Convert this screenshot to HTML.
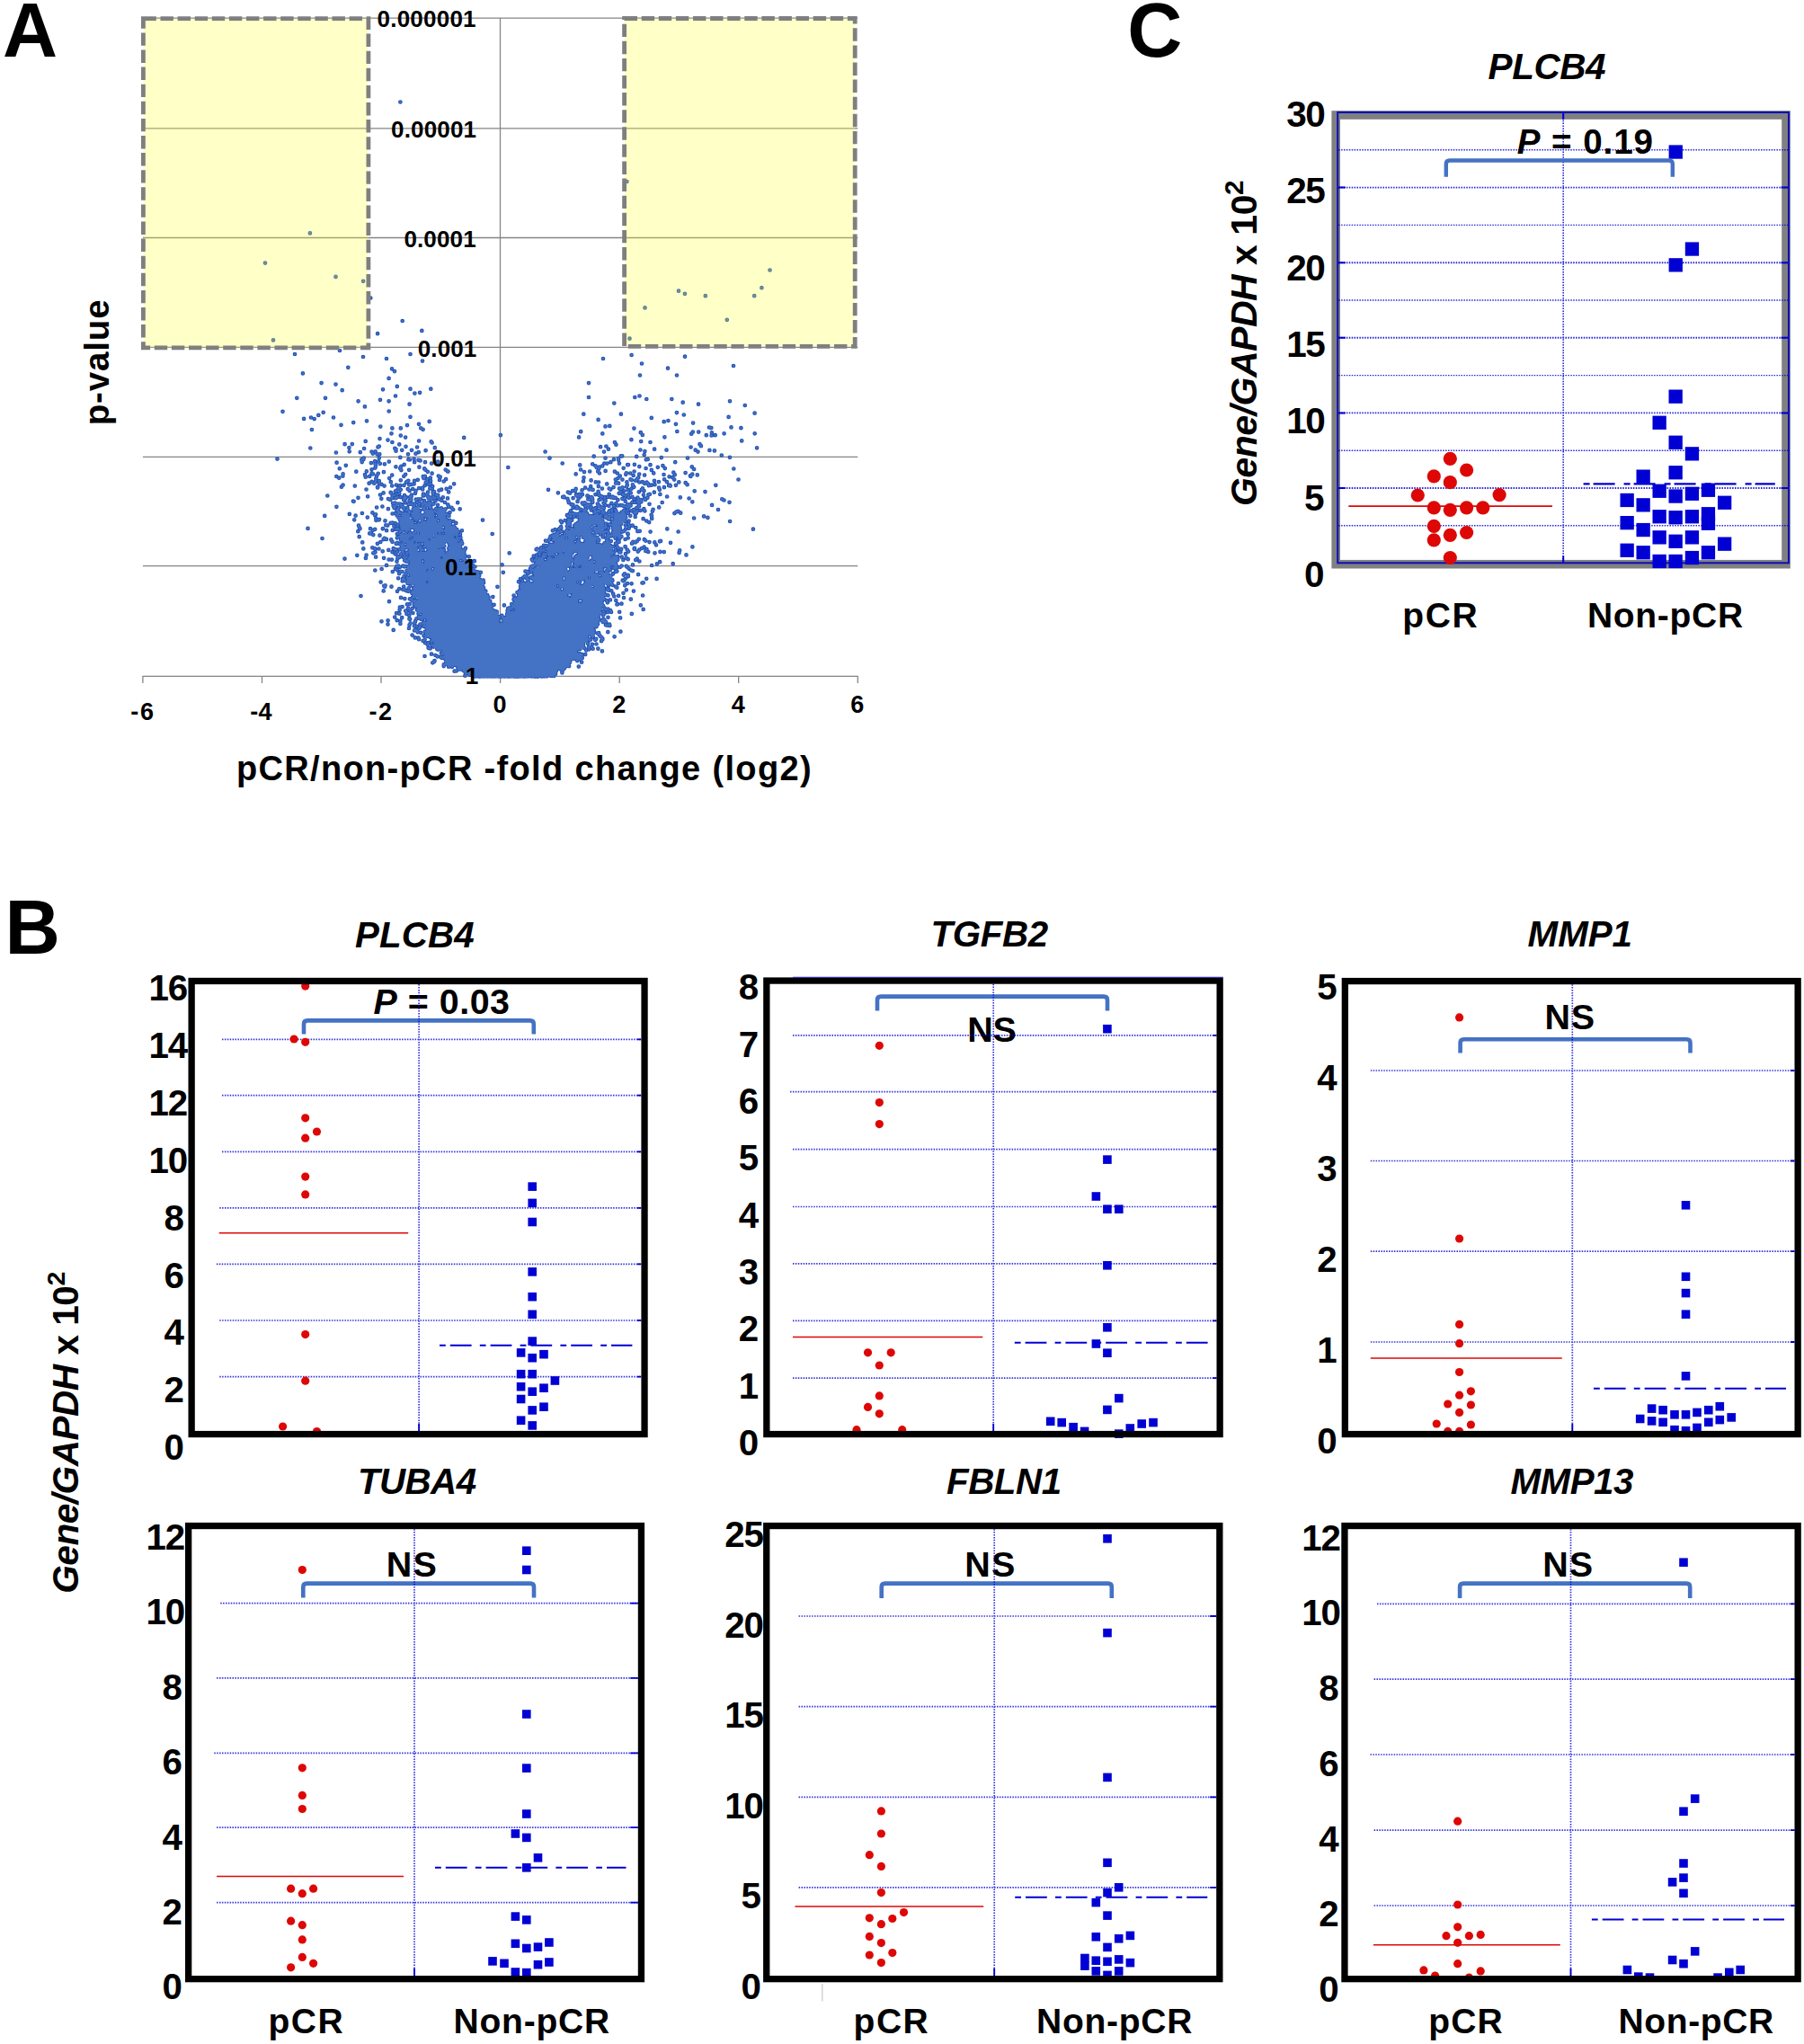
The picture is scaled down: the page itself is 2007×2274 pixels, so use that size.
<!DOCTYPE html>
<html><head><meta charset="utf-8"><title>Figure</title>
<style>html,body{margin:0;padding:0;background:#fff}svg{display:block}</style>
</head><body>
<svg width="2007" height="2274" viewBox="0 0 2007 2274" font-family="'Liberation Sans', Arial, sans-serif" font-weight="bold" fill="#000">
<rect width="2007" height="2274" fill="#fff"/>
<g id="panelA">
<path d="M158.9 20.1H954.3M158.9 142.8H954.3M158.9 264.5H954.3M158.9 386.4H954.3M158.9 508.3H954.3M158.9 629.6H954.3M158.3 752.4H954.9M556.5 20V752.4M158.9 752.4v7.5M291.5 752.4v7.5M424.0 752.4v7.5M556.6 752.4v7.5M689.2 752.4v7.5M821.7 752.4v7.5M954.3 752.4v7.5" stroke="#858585" stroke-width="1.3" fill="none"/>
<path d="M445.4 113.5h0m252 88.5h0m-352.5 57.4h0m-49.9 33.2h0m561.5 7.9h0m-483 7.4h0m30.6 4.9h0m443.3 7.4h0m-92.4 3.5h0m6.9 3.1h0m-349.6 4.7h0m372.5-2.3h0m54.4 0h0m-121.7 13.2h0m-269.8 14.6h0m361.1-1.2h0m-388.7 15.4h0m49.2-3.3h0m231.2 8.8h0m-396.5 1.7h0m74 11.6h0m-50 4h0m76 3h0m52.5-3h0m246.1 1h0m59.4 1.7h0m-332 2.3h0m40 2.6h0m201-2.6h0m43 5.5h0m102 2.5h0m-428.7 1.8h0m48.7 1.5h0m307-0.6h0m-406.1 5.7h0m102.1-2.3h0m-6.4 7.8h0m279.4-3.4h0m41 0h0m-395.4 8.6h0m297.4 0h0m-281.5 1.5h0m68.3 2.3h0m-61.1 4.3h0m45.3-0.9h0m30.5-0.6h0m10.6 4.1h0m12.2-4.1h0m-39.3 7.8h0m21.4-2.9h0m193.6 4.4h0m51.3 0h0m5.2-1.5h0m-381.2 2.3h0m31.7 0h0m36.6 3.5h0m24.4-1.5h0m9.6 1.5h0m286.7-2.3h0m28 0h0m64.7 2.3h0m-406.1 6.1h0m49.7-2.7h0m227.7-1.1h0m76.4-0.9h0m17.3 2h0m51.8 1.3h0m-396.1 6.5h0m-118.2 0.3h0m39.8 4.1h0m5.4-3.1h0m289.6 1.9h0m41.6 0h0m62-1.6h0m7.9 2.4h0m78.8-1.8h0m-501.5 6.2h0m7.9-1.4h0m3.7 1.6h0m21.3-1.6h0m85.5-0.7h0m209.1 3.1h0m59.2-2h0m85.8-1h0m-417.4 6.2h0m14.8-1.8h0m58 3.5h0m11.7-2.9h0m261 0.3h0m4.7-1.2h0m8.5 3.8h0m19.2-1.2h0m-391.6 2.2h0m43.8 1.8h0m13.1 1.8h0m9.4 0h0m7.2-3.3h0m15.2 3.2h0m205.3-1.9h0m4.8-0.5h0m27.1 2.7h0m83.6-1.1h0m2.3 0.6h0m22.2-0.7h0m10.9 0.8h0m-477.5 1.8h0m88.6 4.3h0m35.1-4.5h0m175.6 2.4h0m24.1 2.2h0m42.5-1.2h0m40.5-1.2h0m17.5 0.6h0m6.4 0h0m14.7 0.7h0m13.7 1h0m34.1 0h0m-393.9 2.3h0m5.3 2h0m65.1 0.3h0m40.7-2.8h0m87.2 2.3h0m70.7-2.5h0m24.6 2.4h0m29.8-3.6h0m16.6 1.5h0m5.8 0.3h0m4.1-0.3h0m-389 6.7h0m15.8-2.8h0m9 1.5h0m4.9 2.4h0m29.7-1.5h0m13.6 0.9h0m0.9 1.1h0m203.3-0.4h0m18.5-2.9h0m10.8 1.9h0m10.3 0.9h0m101.7-1.6h0m-441.6 3.8h0m8.2-0.1h0m28.7 3.3h0m1.3-0.8h0m22.5-2.2h0m7.2 2.4h0m216.6 0.4h0m6.3-0.7h0m11-1.8h0m83.2 2.8h0m9.9-3.3h0m1.4 2h0m-434.6 2.3h0m43.1-0.5h0m0.3 4.3h0m16.4-3.3h0m8.4 3.5h0m4.2-0.1h0m21.6-3.6h0m1.2 2.9h0m0-1.9h0m6.7 1h0m10.8 0h0m6.1-3.3h0m9.5 3.7h0m10.2-3h0m122.8 4.3h0m70.3-2.8h0m35.5 0.8h0m5 1.6h0m10.7-2.4h0m13.4 1h0m32.2 0h0m15.7 0.2h0m5.5 0.5h0m47.2-3.1h0m-468.2 5.2h0m26.9-0.3h0m14 1.4h0m4.8 0.8h0m2.7-0.1h0m31.7 0h0m8.5-0.6h0m3.3-1.6h0m20.6-0.3h0m185.6-0.2h0m18.8 4.8h0m1.4-0.1h0m24.5-1.3h0m59.8-3.4h0m26.3 3.9h0m-494.3 4.1h0m93.8 0.7h0m2.1-0.2h0m0.3-1.6h0m17.1 0.1h0m23.5-0.7h0m9.1 2.3h0m1.5 0.3h0m4.7-1h0m4.9 1.3h0m2.1 0.6h0m143.9-2.7h0m49.2-2h0m12.8 2h0m9.4 1.5h0m5-1.1h0m0.3 1.7h0m20-3.9h0m10.6 3.4h0m1.9-0.3h0m15.1-1.9h0m29.2 0.5h0m46.9-0.8h0m-437.3 5.9h0m28.1-0.6h0m10.2 1h0m4.2-2.1h0m0.4 3h0m3.5-2.4h0m1.8 2.2h0m5.1 0.5h0m4.9-2.7h0m16.9 3.2h0m11.4-2.6h0m11.9 0h0m7.1 1.4h0m7.2-1.9h0m138.4 1.8h0m19.5 1.9h0m14-1.1h0m13.1-0.8h0m3.1 0.1h0m4-1.4h0m9.6 1.4h0m9.2 1.6h0m0.8-0.1h0m6.9-0.3h0m17.6 0.4h0m27.7-3h0m-373.4 7.1h0m7-3.5h0m28.7 4.5h0m3.9-1.7h0m0.7-2.7h0m22.3 1.4h0m4.7 1.8h0m1.2-2.3h0m20.1 0.9h0m5.8 1.7h0m93.1-1.4h0m80.8 2.5h0m16.4-4.2h0m1.3 1.8h0m2.5 1.3h0m0.4-1.7h0m3.5-1.3h0m23.5 2.4h0m17.6-1.7h0m7.3 1.9h0m13.2-1.2h0m5.6-1.7h0m2.4 3h0m30-1.7h0m2.3 2.6h0m44.2-0.5h0m-434.7 5.8h0m14.7-2.6h0m11.5-0.3h0m5.8 2.1h0m1.3 0.8h0m5.8-0.5h0m6.2-1.6h0m19.5-2.1h0m8.7-0.3h0m18.1-0.2h0m2.6 2.2h0m4.8 1.9h0m15.1-4.1h0m2.3 1.8h0m0.5 0.2h0m142.2 2.8h0m9.3-2.3h0m6.2-0.6h0m9 0h0m1.7 2h0m6.7-2.6h0m10.3 0.8h0m2.9 1.8h0m10-0.2h0m4.4 0.2h0m4.4-2h0m5.6 3h0m13.6-4.6h0m2.4 3.5h0m22.1-0.7h0m13.3 0.4h0m-388.3 3.9h0m2.9 1.7h0m4.2-2.1h0m24.6-1.5h0m0.7 2.6h0m4.5-0.8h0m7.1 2.6h0m0.2-0.7h0m0.6-2.5h0m14.1 2.8h0m3-3.5h0m13.1 1.2h0m1.8-2h0m19.7 2.3h0m0.4 1.7h0m0.7 0.4h0m1-2.3h0m5.9 1.8h0m9-2.1h0m1.9 1.1h0m159.8 0.7h0m38 0.6h0m2.3-2.4h0m6.5-1.8h0m8.4 1.2h0m5.5 2.4h0m6.9-2.8h0m21.4-0.6h0m6.1 2.3h0m3.7 0.9h0m2.4-3h0m17.2 1.1h0m0.5 0.6h0m1.8-2.2h0m5.6 0.7h0m-362.2 7.5h0m4.1 0.5h0m0.5-1.4h0m3.6 0h0m0.1 2.3h0m12.9-1.1h0m11-1.9h0m6.1 2.3h0m1.2-0.7h0m1.2-1.1h0m6.8 0.1h0m3.7-1.1h0m8.9 3.1h0m1.5-1.1h0m0.2-2.8h0m3.7 2.1h0m9.9-1.1h0m4.7 1.5h0m2.4-2.3h0m152.9 2.1h0m8.6-0.9h0m5.2 2h0m3.2 0.1h0m18.8-2.9h0m1.4 3.3h0m6.2-3.3h0m5 2.8h0m4.1-3.1h0m1.3 0.8h0m4.4 0.6h0m1.6-1.6h0m2.5 3.4h0m3.5-0.3h0m4.7 0.5h0m8.5-1.8h0m4.9 1.2h0m6.2-2.8h0m2.8 2.8h0m8.3-2.5h0m5.1 2.8h0m7.4 0.8h0m58.8-3.7h0m-441.6 8.2h0m1.7-2.2h0m13.2 1.1h0m15.8-2.9h0m5.6 0h0m3.8 4.4h0m0.1 0.3h0m0.3-0.7h0m4-2.9h0m3.2 1.8h0m8.6-0.1h0m4.7-0.9h0m4.2 0.6h0m4.3-0.3h0m5.9-0.5h0m2.4-0.5h0m2.9-0.4h0m12 1.7h0m3.8-1.5h0m2.7-0.3h0m2.1 2.6h0m19.8 1.3h0m4.1-4h0m152.1 2.7h0m8.6 0.1h0m9.4-2.7h0m7.4 3.7h0m2.5-4.5h0m3.1 0.1h0m4.4 4.7h0m4.5-0.9h0m0.7-1.8h0m6.1-0.3h0m1.4 2.4h0m11.9-3.9h0m3.7 0.2h0m1 2.1h0m2.9-0.5h0m3.7-0.5h0m10.4 3h0m5.2-2h0m1-0.7h0m0.7 1.1h0m6.1-0.8h0m12.7-0.6h0m31.7 0.6h0m-388.8 4.7h0m32.3 2.2h0m1.5-1h0m2.1-2.1h0m0-0.7h0m2.4 1.9h0m7.9-0.7h0m1.9 1.8h0m3.6-1.9h0m3.4 1.9h0m3.5-2.8h0m3.9-0.2h0m0.2 1.5h0m8.1-0.9h0m0.2-1h0m2.3 1.6h0m2.2 2.9h0m5.4-1.4h0m2.7-0.9h0m5.6-0.9h0m2.5 3.6h0m110.8-2.6h0m27 1.3h0m2.9 0h0m0.8-2.2h0m6.8 1.5h0m3.6-2.7h0m4.3 1.8h0m2.1-0.3h0m2.1 0.7h0m6 1.9h0m4.3-3.2h0m7.8-0.1h0m1.6 1.1h0m9.8-1.2h0m1.4 3.8h0m0.5-2.9h0m3.4 2h0m4.4-1.1h0m3.7-1.5h0m8.3 3.6h0m3-2.4h0m1.1-1.5h0m1.6 2.7h0m16.6-3.4h0m0.7 2.1h0m38.9 1.5h0m11.8 0.8h0m-420.2 4.4h0m44.8 0.8h0m13.9-1.8h0m3.6-2.1h0m8-0.5h0m0.6 0.6h0m1.4 2.7h0m2.2-0.4h0m2.9-1.1h0m2.6-0.6h0m5.7 2h0m7.6 1.3h0m0.2-1.7h0m4.2-1.9h0m8.8 2.5h0m0.2-1.7h0m0.7 1.7h0m3-0.9h0m1.3-2.7h0m0.1 4.5h0m5.5-4.4h0m0.4 2h0m3.1 0.7h0m2.1 0.4h0m133.7-2.6h0m11-0.7h0m2.2 1.1h0m6.9 1.5h0m0.8 1.2h0m1.4 0.4h0m1.5-2h0m1.1 2.6h0m2.1-2.2h0m5.5 1.5h0m0.4-0.1h0m8.7-1.5h0m3.5-1.3h0m0.5 2.3h0m2.1 1.1h0m9.1-2.4h0m3.9 2.7h0m7.1-3.7h0m3.9 1.1h0m1.2 0.7h0m2.5 0.8h0m2.6-1.3h0m2.8-1.8h0m14.2 2.3h0m5.4-0.2h0m1.5-0.5h0m5-2.2h0m6.6 2.2h0m-335.9 3.9h0m25.8 1h0m7.6 0.2h0m2.3 0.9h0m2.2-2h0m3.2 0.2h0m1.1-0.1h0m1.4-0.9h0m3.6 0h0m3.4 0.6h0m0 2.4h0m1.4-2.3h0m0.2 1.7h0m1.2-2.3h0m3.6 4h0m0.6-4.1h0m1.1 2.4h0m0.2 0.4h0m5.4-0.2h0m2.6-0.4h0m2.8 0h0m3.8 1.9h0m4.7-2.7h0m0.6-1.5h0m0.5 1h0m1.6-0.2h0m0.6 1.8h0m1.9-3h0m0.7 1.9h0m0.8-0.6h0m1 3.4h0m0.1-3.6h0m2.8-0.5h0m1.3 2.2h0m0.5 0h0m2.2 1.4h0m1.5-3.5h0m5.2 1.1h0m128.2-1.5h0m1.2-0.2h0m0.3 0.6h0m3.7 1.5h0m6.2-0.6h0m6 0.6h0m10.7 0.7h0m1.9 0.2h0m0.7-2.6h0m1.4 0.2h0m0.6 1.1h0m0.1 2.3h0m0.2-1.3h0m7.3 0.8h0m2.2-1h0m1.2-2.5h0m2.9 1.2h0m0-0.7h0m0.1 4.3h0m0.6 0h0m0.1-0.7h0m2.4-4h0m3.1 0.4h0m2.4 0.4h0m0.7 0.4h0m2.5-0.2h0m2.7 2.4h0m5-1.4h0m2.6-0.4h0m4.3-1.3h0m0.5 0.7h0m3.7-0.9h0m1.9 2.1h0m4-1.4h0m0.9 2.2h0m2.4 0.3h0m4.2-1.5h0m1.1 1.3h0m2.4-2.1h0m21.7-1.3h0m14.7 0.9h0m9.8 1.1h0m36.7 0.8h0m2.2 1.2h0m-412.6 1.1h0m0.7 0.2h0m43.5 2h0m2.1-0.2h0m1.4 2.1h0m1.2-1.1h0m2.7-0.1h0m2.3 0.7h0m4.1-1.7h0m3.7 1.1h0m0.1 0.3h0m0.8 0.1h0m2.3-1.2h0m0.6 1.3h0m3-0.5h0m2.6-1.9h0m2.1 2.9h0m0.2-1.4h0m0.7-0.3h0m3.2 0.7h0m1 0.4h0m1.3-1.4h0m1.8 0.3h0m1.3 2.4h0m1.3-3.3h0m1.4 3.4h0m0.5-2.3h0m2.6 0.6h0m0.9-0.1h0m4.7 1.2h0m8-2.8h0m3.4 2.7h0m10.8-2.5h0m123.2-1.5h0m0.4 1.5h0m2.8 2h0m1.9 0.3h0m5-3.6h0m5.2 1.6h0m0.7 1.1h0m2-1.2h0m1 0.6h0m2.1 1.9h0m1.2-0.2h0m1.7-0.4h0m2.7-2.2h0m0.2-0.3h0m5.6 1.8h0m1.3 1.5h0m5.3-2.4h0m2.1 2.3h0m6.8-2.1h0m5 0.2h0m1.7 2.3h0m3.3-0.2h0m2.1 0.1h0m3.2-4.6h0m2.5 3.7h0m2.2 0h0m3-2.5h0m3 0h0m3-1.2h0m1.1 2.8h0m0.5-1.9h0m2.4-0.3h0m9.1 2.5h0m14.2-1.8h0m33.6-0.7h0m21.8 3.6h0m19.4-3.1h0m-437.1 5h0m44.7 0.7h0m6.3-1h0m6.5 2.7h0m5.7-3.4h0m1 2.3h0m0.9-0.9h0m1.9 3.3h0m1.8-0.7h0m0.2-1.5h0m3-2.6h0m1.1 1.1h0m0.8 0.2h0m1.2 2.5h0m0.1-1.2h0m3.7-0.4h0m0.2 1.6h0m6.3-0.2h0m0.8-3.5h0m0.5 2.8h0m2.3 1.7h0m1.3-2.8h0m0 2.6h0m0.7-2.4h0m0-0.8h0m4.3-0.9h0m1.4 3.6h0m1.1 0.5h0m0.3-2.7h0m5.7 0.3h0m0.9-0.8h0m0.1 0.7h0m1.1 2.7h0m4.5-0.5h0m0.5-0.9h0m2.7 0.2h0m2.9-0.8h0m3.3 1.5h0m0.5 0.5h0m0.9-1h0m3.7-2.3h0m3.2 0.9h0m1.7 2.1h0m7.5-0.7h0m125.8-1.4h0m3.9 0.6h0m0.4-1.8h0m1.7 1.5h0m2.8 1.7h0m4.8-3.8h0m0.4 4h0m0.4-0.5h0m2.1-2.1h0m2.9 0h0m0.7-0.4h0m2.5 1.9h0m2.6-0.8h0m2.9-2.1h0m1.5 0.3h0m2.6 1h0m2.1 0.9h0m5.6-2.5h0m3.6 3.7h0m1.8-3.6h0m0.6 0.5h0m1.2 3.8h0m9.7-4.1h0m2.5 0.6h0m1.8 0.8h0m0.8-0.1h0m0.2-0.8h0m2-1.1h0m3.4 4.5h0m0.7 0.2h0m2.6-2.1h0m0.4 0.2h0m1.6-2h0m0.8-0.2h0m5.3 3.1h0m10.2 0.6h0m6.6-2.4h0m65.8 2.6h0m-410.2 4.9h0m14.1-0.9h0m11.5-0.6h0m3.6 1.9h0m18.6-0.8h0m3.2-0.3h0m3 0.4h0m0-2.5h0m0.7 0.3h0m1.6 0.8h0m0.1 0.6h0m2.5 0.2h0m2.6-0.2h0m1.5 1.1h0m0.4-4.1h0m2.4 2.8h0m0.3-1.8h0m1.4 0.8h0m1.9 1.7h0m2.3-2.1h0m1.9 0h0m0.1 1.7h0m1.8-1h0m0.1-0.3h0m0.1 0.8h0m2.4 1.5h0m0.1-3.7h0m6.2 3.5h0m1.7-4.1h0m0.4 0.8h0m1.5 3.4h0m1.5-3.7h0m1.5 1.2h0m3.8-0.7h0m1.8 1.2h0m1.3 1.3h0m0.7-2.8h0m2 3.7h0m1.5-3.2h0m1.1 3.1h0m0.5 0.4h0m0.2-2.7h0m3.3 2.5h0m0.8-0.6h0m3.7-1.4h0m133.2 1.3h0m1.3-3.1h0m2.3 2.8h0m0.4 0.5h0m2.7 0.2h0m0.8 0.3h0m2.5-0.2h0m1.6-1h0m1.5 1.4h0m2.2-1.7h0m0.3-2.8h0m1.9 0.7h0m1.7 2.5h0m4.9-3.4h0m3.4 2.1h0m0.6 0.6h0m0.2-2.6h0m0.2 1h0m0.4 3h0m2.2-2.2h0m0.2 3h0m0.3-4.5h0m1.8 0.6h0m2.9 1.1h0m0.5 0.8h0m1 0.8h0m0.1-1.9h0m2.9 2.7h0m2.6-2.1h0m1-1.7h0m2.8 0.4h0m0.7 2.6h0m3.5-0.8h0m0.3-1.9h0m1.9 3h0m4.2-1.7h0m0.6-0.1h0m1.8 0.4h0m0.2-2.1h0m0.7-0.5h0m3.3 0.1h0m0.6 3h0m3.8-2.4h0m3 2h0m2.1 0.8h0m0.5-0.9h0m0.7-1.7h0m3.8-0.6h0m4.8 0.6h0m8.5 0.2h0m24.5 2.4h0m1.9-1.5h0m2.2-0.8h0m2.7 1.9h0m-396 3.2h0m34.4-0.2h0m13.2 1.9h0m8.2-2.7h0m1.2 3.7h0m23.5-3.1h0m0.6-0.4h0m1.1 2.6h0m1.2 0.6h0m2.2 0.8h0m0.9-3.3h0m1.4 2.1h0m2.7-2.4h0m2.5 3.1h0m0.2-4h0m0 0.7h0m3.9 0.8h0m1.5 0.3h0m1.7 1.9h0m2.2-1.6h0m1.5 2.7h0m0.7-2.8h0m2.4-1.2h0m1.4 1.7h0m0.4 1.9h0m0.3 0h0m0.4-3.3h0m0.5-0.4h0m1-0.8h0m0.3 1.6h0m0.7 0.6h0m2.6-0.4h0m0.6-0.4h0m1.3 3.2h0m0.8-3.5h0m1.7 2.6h0m0.5-1.3h0m1.8-1.7h0m2.3 3.7h0m0.9-0.3h0m1.8-2.3h0m0.8-0.8h0m1.5 1.1h0m0.4 0.6h0m1.5-1.3h0m2.5 1.6h0m4-2.1h0m1.1 0.5h0m131.4-0.7h0m1.1 1.6h0m3.1 0.1h0m3.6 0h0m4 0.1h0m2.1-0.7h0m0.4 1.8h0m2.4-0.1h0m3.9-3.5h0m0.5 3.7h0m1.9-3.1h0m0.8 1.3h0m0.4 0.3h0m1.7-0.6h0m2.2 1.9h0m0.6-2.1h0m0.3 1.3h0m1.4 2h0m1.4-2.2h0m2.2 2.3h0m0.2-1.8h0m1.2 1.7h0m2.4-4h0m0.5 3.5h0m0.1 0.7h0m3.7-3.2h0m0.3 1.3h0m1.6-0.3h0m0.4 1h0m0.2-1.7h0m1.4 2.9h0m1.6-2.8h0m2.5-1.5h0m0.3-0.4h0m0.1 1.6h0m2.3 3h0m1.8-3h0m0.4 1h0m3 1h0m0.9-2.4h0m2-1h0m0.3 4.4h0m0.2 0.1h0m1.6-2.8h0m1.5-1.8h0m0.3 1.3h0m0.5 1.6h0m5-1.9h0m5.5 1.1h0m8.9 2.3h0m9-4.4h0m0.4 1.3h0m0.2 2.8h0m46.9-0.4h0m11-2.1h0m4.3 1.5h0m-393.2 2.4h0m24.2 0.5h0m3-0.3h0m0.6-0.7h0m6.5 1.6h0m6.2 2.4h0m1.9-0.1h0m3.1 0.4h0m5.2-3.7h0m0.4 3.9h0m1.1-4.7h0m1.1 4.5h0m5-1.1h0m1.3-1.7h0m0.9 1.8h0m3.8-2.3h0m0.6 3.7h0m0.1-1.2h0m3.8-2.2h0m2.6 2.9h0m3.8-0.6h0m0.2-0.6h0m0.3-1.9h0m2.9 1.5h0m3.2-1.7h0m0.6 1.8h0m2.4-2.9h0m1.6 3.3h0m0.6-1.8h0m1.8 2.3h0m1.4-0.4h0m0.3-1.5h0m1.8 2.5h0m2.9-0.8h0m0.4-3h0m2.1 2.4h0m0.1-1.4h0m1.5 1.2h0m0.5 0.7h0m2.7-2.9h0m0.8 3.6h0m2.6-0.3h0m0.2-2.7h0m4.1 1.2h0m2.9 1.9h0m29.7-3.3h0m86.8 1h0m1.1 1.7h0m3.7-2.3h0m2.6 2.2h0m1.1-3h0m0.7 0.2h0m0.5 1.7h0m0.4 1.2h0m2.3-2.6h0m6.5 3.1h0m2-3.1h0m1.3-0.4h0m1.3 1.7h0m0.2-1.7h0m5.6 2.9h0m0.1 1.1h0m4.3-1.3h0m2.4-0.7h0m0.7 0h0m2.5 1.9h0m0.3-1h0m2.3-1.8h0m3.5-0.1h0m0.5 2.1h0m0.8-1.6h0m3.6 2.7h0m4.3-4.9h0m2.7 2.7h0m0.6-0.3h0m2.5 1.5h0m1.8-0.8h0m0.7-2.3h0m1.1 2.5h0m0.6-2.9h0m3.3 1.2h0m3.8 0.9h0m4.1-0.6h0m19.7 0h0m2.9 1.6h0m89.9-1.1h0m-413.1 4.6h0m0.7 2.2h0m29.6-2.5h0m2 0.3h0m7.1 0.7h0m4-1.5h0m3.5 1.2h0m0-2.1h0m3.5 0.4h0m0.4 3.8h0m0.8-1.6h0m4.6-1.2h0m0.3 3h0m0.7 0h0m0-4.3h0m1.2 0.9h0m0.9 2.3h0m1.4 0.7h0m3-3h0m1.2 3.5h0m0.6-1.3h0m2.9-0.7h0m0.7 0.1h0m0.4-0.3h0m4-0.3h0m2.2-2.1h0m9.8 1.8h0m0.4-0.1h0m2.2-0.6h0m0.1 2.6h0m0.4 0.4h0m2.4-0.7h0m1.5-2.3h0m2.8 0.1h0m1.5 1.4h0m0.4 2h0m3.4-0.9h0m1.4-3.5h0m2.6 3.1h0m1.1-0.5h0m1.6 1.7h0m117.8-1.1h0m0.2 1.1h0m6.5-1.9h0m1.3-1.6h0m1.5-0.1h0m0.3-0.5h0m0.1 1.1h0m5.2 0.2h0m1.4 2.9h0m0.2-4.4h0m2.8 2h0m1.7 1.3h0m0.9-3.1h0m0.3-0.1h0m6.7 3.7h0m1.2-3.3h0m2.2 1.8h0m2.2-2.6h0m2.4 4.2h0m1 0h0m3.1-3.1h0m0.8 3h0m0.7-0.8h0m1.2-2.5h0m1.4 3.3h0m0.1-3h0m1.4 1.4h0m2.2 2.1h0m0.5-3.1h0m0.2 1.4h0m0.6 0.8h0m3.6-3h0m2 0.6h0m1.4 0.3h0m0.7 2.4h0m4.1-0.9h0m0.2-2h0m1.5 0h0m1.7 2.7h0m0.2 1h0m1.5-4.8h0m4.6 1.8h0m3.3-1.8h0m1 2.2h0m3.4 0.1h0m0.1-0.4h0m3.6 2.4h0m-364.8 0.9h0m55.8 3.3h0m2.2-3.1h0m11.5 0.1h0m2.7 1.6h0m2.5-1h0m8.6-0.5h0m0.1-0.3h0m4.2 2.2h0m6.6-0.3h0m3.7-1h0m1.8-1h0m1.3 1.4h0m2.9-1.7h0m0.6 0h0m0.1 3.2h0m2-1.8h0m1.1-0.1h0m1.1-1.3h0m0.5 4.3h0m0.7-0.9h0m2.4-1.4h0m1.4 2.7h0m5.4-3.7h0m0.1-1h0m0.1 3.7h0m0-2h0m2.3-1.2h0m0.5 2.3h0m2.6 0.8h0m0.6-1.9h0m11.7 2h0m2.2-0.6h0m0.8 1.1h0m2.5-0.2h0m0.2-1.6h0m3.4 1.5h0m0.3-3.2h0m0.1 2h0m0.1 0.9h0m2.5-2.5h0m0.2 2.5h0m0.6 0h0m0-1.8h0m4.7 1.6h0m2.2-3.4h0m1.5 0.6h0m0.4 2.7h0m1.7 0.6h0m2.7-3h0m0.5 2.3h0m0.6-1.4h0m1.5-0.4h0m1.7 2.5h0m3.9-1.2h0m101 0h0m2.7-1.2h0m3.2 2.8h0m1-3h0m0.9-1h0m0.9 3.7h0m1.2-0.6h0m4.4 0.6h0m1.6-1.7h0m3.2 0.8h0m0.5-0.5h0m0.3-2.3h0m2.1 0.5h0m0.1 2.4h0m3.5-0.1h0m12.1-1.6h0m0.8 2h0m0.8 0.9h0m1.3-2h0m0.8-1.2h0m0.5 3.5h0m1.6-1.8h0m2.2-1.7h0m1.2 0h0m1.4-0.4h0m0.8 4.1h0m1.2-3.6h0m0.9 2.4h0m2.2-1.5h0m1.5 2.1h0m2.8 0.1h0m0.4-0.8h0m0.9 0.6h0m2.1-0.7h0m1.1-3.3h0m5 3.8h0m0.1-3.3h0m1.1-0.5h0m0.5 3.5h0m1.5-2.8h0m2.5 0.4h0m1.1 1.4h0m1.2-0.7h0m1.7 2.2h0m2.1-0.9h0m2-2.1h0m3.8-1h0m9.6 3.3h0m2.4-0.3h0m11.9 0.8h0m18.7-3.2h0m12.3 3.1h0m83.3-2.8h0m-438.2 8.5h0m11.5-3.8h0m1.9 0.2h0m2.2 1.5h0m7.2 0.6h0m19.3-1.7h0m2.1 3.4h0m0.7-4.9h0m2.1 3h0m2 1h0m1-1.5h0m0.8 1.9h0m1-3.2h0m0.3 1.2h0m2.8 2.1h0m0.6-3.6h0m1.1 3.1h0m0.4-1.1h0m1.2-0.9h0m1 0.8h0m0.5 0.2h0m0.1-1.9h0m0.8 0h0m1.8-0.7h0m1.4 2.2h0m2.5 1.8h0m1.9-3.3h0m0.6 2.5h0m3.5 1.1h0m4.2-0.7h0m0.9-1.3h0m1.2 0.8h0m1.1 0.3h0m0.4-3.5h0m2.4 0.6h0m2.9 3.6h0m0.5-1.7h0m3.8-1.4h0m1.1 2.7h0m0.5 0.5h0m0.5-0.4h0m0.7-0.9h0m2 0.6h0m1.7-3h0m1.7 1.1h0m2.5 2.2h0m0.5-1.1h0m0.1 1.6h0m1-4.2h0m1.9 4.2h0m0.6-3.2h0m2.7 0.6h0m1.4 2.1h0m0.2-3.8h0m0.1 4.6h0m3.4-2.8h0m35.7-0.7h0m64.9 2.6h0m2.4-0.9h0m2.2-0.8h0m1.5 2.4h0m0.6-3.4h0m0.4 1.1h0m0.4-2.2h0m0.6 0.9h0m0.1 2.8h0m4.2 0.4h0m0.3-0.7h0m1.4 0.9h0m1.3-1h0m0.2-2.3h0m1.6 2h0m2.3-0.3h0m0.5-2.6h0m0.2 3.6h0m0.1 0.8h0m2.3-3.6h0m3.5 1.5h0m0.8-0.5h0m0.5 0.3h0m0.7-1.8h0m2.4 1.8h0m1.3 0.8h0m1.4-3.1h0m1.9 2.1h0m3.4-1.2h0m0.4 2.3h0m1.3 1.1h0m3-2.3h0m2.8 1.9h0m0.6-1.2h0m1 2.1h0m2.4-4.8h0m5.3 1.7h0m0.1-1.2h0m2.7 4.2h0m0.5-2.7h0m4.7 1.5h0m0.3-1.3h0m1-1.6h0m1.4 2.8h0m1.7 0.2h0m1.1-1h0m0.2-0.9h0m0.3 0.4h0m1.4-1.3h0m0.2 0.8h0m3.3-1.4h0m0.6 3.4h0m0.9-0.4h0m0.2-3.1h0m1.2 3.5h0m0.1 1h0m1.6-0.4h0m6.8-3.3h0m0.5 0.6h0m-340.2 4.8h0m68.1 1.1h0m1.1-1.2h0m2.2 1h0m5.3 0.5h0m6.6-2h0m4.3 2.3h0m0.1-2.7h0m0.9 1.3h0m2.7 2.7h0m0.1-1.8h0m0.7 2h0m1.2-2.4h0m1.1 0.3h0m0.9-1.5h0m1.2 3.7h0m0.5-0.6h0m2.8-1h0m0.6 0.8h0m0.6 0h0m1.2-2h0m1.5-0.1h0m0.5-0.2h0m0.6 2.4h0m1-1h0m0.9 1.1h0m2.6 0.4h0m1.2-0.4h0m0.9 0.5h0m0.1-1.1h0m1.3-0.2h0m2.9 0.2h0m0.2-0.2h0m0.9-2.8h0m2.4 4.3h0m1.4-3.9h0m1.4 3.2h0m1-1h0m0.3-1.7h0m1.4-0.3h0m3 2.1h0m1.7-0.9h0m0.6-1.7h0m2.1 3.7h0m0.2-3.3h0m3.7 1.3h0m0.1-1.2h0m0.7 0.1h0m0.8-0.8h0m2.1 1.8h0m3.4-0.5h0m2.6-0.7h0m0.8 2.9h0m2.1-1.6h0m0.4 2.6h0m0.3-2.4h0m2.4-0.7h0m2.2-1.2h0m1 4h0m93.6-0.6h0m2.4 0.4h0m1.5-1.2h0m0.8-1.7h0m3.3 1.6h0m0.3-3.1h0m1.3 1.7h0m1.3 0.1h0m1.5 1.8h0m0.9 0.4h0m0.6-1h0m1.3-1.6h0m2.1 2.3h0m3.9-1h0m1 1.7h0m2.5-1.5h0m0.2 0.9h0m2.2-3.5h0m0.8 2.6h0m1.2-1.9h0m3.3 1.2h0m0.1-0.8h0m3.3 2.6h0m0.2 0.4h0m0.9-2.9h0m0.3-0.4h0m5-0.8h0m1.5 0.7h0m1.9 2.1h0m4.3-2.1h0m2.2 2.9h0m2.1-3.3h0m0.9 4.1h0m0.1-4.8h0m0.8 0.2h0m0.5 0.7h0m0.9-0.4h0m0.5 2.4h0m1.2 1.2h0m0.1-1h0m8.3-1.9h0m0.7 2.5h0m1.3 0.2h0m0.3-3.7h0m3 4.3h0m4.7-3.8h0m0.3 0.8h0m2.5 2.8h0m1.3-3.3h0m0.6-0.2h0m0.1 1h0m6.3 0.7h0m3.1-1.5h0m10 3.6h0m2.1-2.3h0m6 0.4h0m1.4 1.4h0m15.8 0.7h0m1-0.4h0m-331.8 1.5h0m16.7 1.4h0m3.4-1.8h0m13.2-0.2h0m4.3 2.1h0m1.2-1.1h0m2.6 1.4h0m1.8 0.6h0m2 0.3h0m0-1.5h0m2.7-1.9h0m2.4 3.5h0m0.8-2.1h0m1.3 0.3h0m0.8 2.9h0m1.8-0.4h0m0.9-1.6h0m0.3-0.2h0m1.2 1.7h0m2.7-2h0m1.6 1.9h0m0.6-0.6h0m1.3-0.9h0m5.1-0.3h0m1.6 0h0m1.4 1.9h0m0.7-2.6h0m0.2-1.6h0m0.8 2.7h0m3.9-0.9h0m1.4-0.6h0m3.1 3.1h0m2.3-0.9h0m1-3h0m0.4 0.5h0m1.7-0.4h0m2.4 0.2h0m1.8-0.2h0m4.5 0.2h0m0.8 2.5h0m0-0.7h0m1-1h0m1.8 1.6h0m3.1-2.2h0m1.9 2h0m0.5-1h0m1.3 1.5h0m2.2-1.8h0m0.3 0.6h0m2.2 0h0m90.8 2h0m2.4 0.3h0m4.4-1.4h0m0.5 0.8h0m3.2-0.8h0m1-0.5h0m1.7-2.4h0m0.8 2.3h0m0.9-2.1h0m5.7 0.2h0m0.7 0.9h0m7.9-0.7h0m0.7-0.8h0m0.6 2.3h0m0.1 0.7h0m1-2.3h0m1.5 1h0m3.6 0.5h0m0.3-0.3h0m1.8-2h0m0.8 1h0m0.1 1.6h0m3 0.1h0m3.3-2.3h0m0.9 0.3h0m0.4 0.5h0m0.7 1.1h0m6.6 0.5h0m0-0.7h0m4.5 1.2h0m1.7 0.4h0m2.1 0.2h0m3.1 0.2h0m0.9-0.2h0m0.6-2h0m2.1 2.2h0m0.5-0.4h0m0.1-2.6h0m2.3 1.8h0m0-1.9h0m0.8 3.7h0m0.9 0h0m5.8-2.6h0m0.2 0.6h0m0.9-0.6h0m2.5-1.6h0m14.4 1.7h0m1.4-1.9h0m2.4 0.7h0m15.7-0.4h0m5.8 0.3h0m1.7 2.9h0m16-2.5h0m-341.7 6.6h0m10-1.1h0m2.9 1h0m0.1 0.6h0m4.2-0.4h0m10.8 1.4h0m5.4-1.7h0m1.8 1.4h0m1.1-0.2h0m3.6-0.1h0m2.3-1.4h0m0.4 1.5h0m0-3.6h0m0.8 3.3h0m0.1-2.6h0m0.9 1.8h0m0.2 1.4h0m1.1-3.4h0m0.4 1.2h0m2.2-1.2h0m0.2 0.8h0m0.1-1h0m1.1 1.3h0m4.2-0.5h0m1.4 3.4h0m3.1-2.2h0m0.1 0.3h0m4.5-0.6h0m0.9-1.6h0m0.5 2.5h0m1.9 1.2h0m1.1-3.3h0m3.7 0.7h0m1 1h0m0.5-2.2h0m3.1 3.9h0m3.8-0.3h0m1.2-0.2h0m1.8-1.9h0m1.6 2.8h0m2.8-4.8h0m0.1 3.4h0m1.6 1.3h0m0.6-4.2h0m0.5 3.8h0m0.3-4.4h0m4.9 2.6h0m0.9-1h0m0.5 0.7h0m0.8-0.9h0m1.3 0.8h0m7-0.6h0m2.5 0.1h0m3 3h0m1.5 0.1h0m1.2-2.4h0m78.7 1.4h0m1.1-0.6h0m4.4-1.3h0m0.2 2.6h0m2.5-0.2h0m0 0.6h0m2.7-2.2h0m0.5 0.9h0m1.7-0.1h0m0.9-2.7h0m0.7 4.1h0m2.6-2.8h0m3-1.5h0m1.1 1h0m2.8 2.6h0m2.6-3.8h0m1.4 4.5h0m0.6-1.1h0m0.4-2.1h0m2.4 1.9h0m2.9-2.3h0m0.1 3.5h0m2.3 0.2h0m1.7-3h0m1.2-1.6h0m2.7 0.8h0m0.4 1.3h0m2.7-1.7h0m0 1.2h0m2.1 1.9h0m0.1-3.5h0m4.9-0.3h0m8.5 1.1h0m1.3-0.4h0m2.3 0.4h0m2.5-0.2h0m3.7 1.3h0m2.1 0h0m2.9-0.3h0m3.7 0.2h0m0.9 0.2h0m3.7-1.3h0m1.5-0.5h0m2.5 3.9h0m1.7-3.6h0m1.9 1.9h0m2.7 0.6h0m4.3-2.8h0m0.2 0.2h0m2 3.3h0m7.9-1.2h0m0.3 0.6h0m0.1-1.2h0m5.3 1.8h0m2.7-1.6h0m2.6-1.3h0m2.9 2.5h0m36.7 1.1h0m14.2-3.9h0m-355.1 6.9h0m2.2-1h0m8.2-1h0m10.9 0.9h0m3 2.1h0m2.2-2h0m4.4 2h0m2.2-2.6h0m0.6 2.2h0m3.5-1.4h0m0.2 1.3h0m0.3-0.4h0m2.5-2.4h0m0.9 3.7h0m1-1.3h0m3.7 0.8h0m2.5-1.6h0m2.1 1.2h0m0.7-1.1h0m0.6 1.3h0m0.7 0.4h0m0.7-3.8h0m2.5 4.1h0m0.9-1.7h0m3.1 0.4h0m0.6-1.5h0m1.2 1.1h0m1.3 2h0m1.5-2.2h0m0.7-1.8h0m6.6 1.8h0m4.1 2.2h0m1.6-1.4h0m0.7 1.2h0m0.7-0.8h0m3.5-0.6h0m2-1.6h0m0.5 0h0m0.3 3h0m8.3-1.9h0m2.9-1.8h0m1.1-0.3h0m0.8 3.6h0m2.6 0.7h0m0.2-3.9h0m0.4 2.7h0m50.2-0.6h0m32.9 0.1h0m1 1.9h0m1.1-3.4h0m3 2.1h0m2.3 0.3h0m2.4-1.6h0m1.1 0.9h0m1.4-1.7h0m2.9-1.3h0m0 4.3h0m1.1-1.7h0m2-1.7h0m1.5-0.3h0m0.3 0.4h0m3.5 0.3h0m0.9 2.9h0m0.7-1.3h0m3.5 0.4h0m1.3-1.5h0m3.1 0.9h0m0.8-2.1h0m0.7 3.8h0m0.2-3.6h0m1.6 2.2h0m0.3-2.2h0m0.8 1.2h0m0.4-1.5h0m3.1-0.2h0m3.1 1.6h0m7.7 1.3h0m3.2-0.2h0m0.2-1.7h0m1.8 2.8h0m3.9-0.7h0m13.5-0.5h0m0.7 1.6h0m1.7-2.9h0m2.1 2.1h0m0.6-0.3h0m0-3.3h0m1.5 0.3h0m0.8 3.6h0m2.1-2.1h0m5.3-0.3h0m1.6 0.1h0m5.6 1.9h0m3.1-2.6h0m10.7 0h0m8.5-0.7h0m2.9 1.1h0m7.3 1.3h0m6-1.4h0m4.3 0.2h0m16.8 0.8h0m7.9 2.5h0m-380 4.2h0m13.8-3.8h0m9.6 3.1h0m0.7-3.3h0m10.5 2.1h0m9 1.1h0m5.5 1.7h0m9.7-1h0m0.3-2.5h0m2.1 0.8h0m0.8-1.1h0m3.7 1.6h0m1.4 0.9h0m1.6-1.2h0m2.4 1.5h0m1.1-1.7h0m1.4-1.3h0m0.4-0.9h0m0.3 4.4h0m0.5-4h0m5.1 0.5h0m4.2 1.3h0m2.4-1.2h0m0.5 2.4h0m1.7-1.6h0m3.4 0.9h0m10.1-1.2h0m2 0.7h0m1.5-0.8h0m0 3h0m4.1-1.6h0m0.6 0.6h0m1.5-2.3h0m1.5-0.5h0m10.6 2.5h0m1.8-1.1h0m3-0.1h0m0.3-1.2h0m0.1 2.3h0m0.1-1.7h0m2.6 3.4h0m1.2-1.5h0m1.3-2h0m3.9 0.5h0m70 3.1h0m1.9-3.9h0m2.1 3.9h0m1.1-4.7h0m1.5 4.8h0m1.5-2h0m0.4 0.7h0m1.6 1h0m0.9-0.6h0m0.5-1.2h0m0.3 0.4h0m0.4-2.6h0m1.4 0.4h0m0.3 1.3h0m1.4-1.6h0m2.2 3.1h0m1.8-0.4h0m0.3-2.3h0m1.3 2.1h0m2.6 1.1h0m2 0.4h0m0.2-4h0m0.8 0.5h0m3.7-1.1h0m0.4 2.3h0m1.9-1.7h0m4.4 0.7h0m1.1 1.7h0m0.7-1.1h0m1.8 1.3h0m2 0.5h0m0-1.2h0m0.4-1.3h0m0.9 2.9h0m4.2-2.3h0m0.7 1.7h0m0.4-0.7h0m0.9-2.3h0m0.1 0.3h0m3.1 1.5h0m0.4-2h0m5.4-0.2h0m1.5 1.7h0m1.4 0.4h0m6-0.1h0m1.1 2h0m0.1-3h0m1.8 0.9h0m0.3 2.1h0m0.3-3h0m1.4 3.2h0m2.4-0.5h0m8.4-0.8h0m0.2-1.6h0m2.4 1.5h0m4-0.6h0m1.7-0.9h0m2.1 2.2h0m1.3-2.3h0m0.1 3.4h0m4.4-2.7h0m4.8 0.9h0m2.2 1.6h0m10-0.7h0m-272.8 1.1h0m5.6 2.1h0m8.6-1.2h0m1.6 0.9h0m0.7-0.8h0m1.5 1.3h0m2.6-1.5h0m1.1 1.7h0m0.4-1.8h0m8.5 0.9h0m0.2 1.2h0m1.2 0h0m0.3-2.1h0m1.7 4h0m3.1-3.1h0m1.8 0.5h0m0.7 0.7h0m0.1-2.6h0m0.7 2.7h0m4.5 1.4h0m2.2 0.1h0m2-1.7h0m2.5-0.4h0m2-0.8h0m2.4 1h0m0.3-1.2h0m0.8 0.3h0m3.1-0.3h0m10.3 2.1h0m0.3 1.1h0m1.4-4h0m1.7-0.3h0m0.8 2.5h0m0.2 1.6h0m2.6-1h0m0.3 1.3h0m3.2 0.1h0m0.1-3.7h0m0.9 1.8h0m1.4 2h0m1.7-3.2h0m2.9 0.6h0m0.2 2.2h0m3.7-2.8h0m64.9-0.4h0m2.5-0.4h0m3.4 1h0m0.6-0.1h0m2.8 0.2h0m2-0.8h0m0.2 1.3h0m0.2 1.6h0m0.8-1.6h0m2.7 1.6h0m0.1-1.8h0m1.5-0.1h0m0.9 1.1h0m0.6-2.4h0m2.2 0.8h0m3.5-1.3h0m3.6-0.3h0m7.8 3.6h0m1.9 0.7h0m0.6-1.7h0m1.1 0.4h0m1.3-2h0m0.9 3.3h0m2.9-3.4h0m0.3-0.4h0m1.2 1.5h0m3.3 1.9h0m0.4-2h0m0.5-0.4h0m1.8 0.5h0m2.1-0.1h0m1.7-0.2h0m4 1.5h0m0.2-2.7h0m2.4 3.6h0m0.3-2h0m3-1h0m0.7 2.7h0m0-2.6h0m4.7 2h0m0.8 0.5h0m2.8-1.4h0m5.6 2.1h0m3.5-0.7h0m2.2-0.5h0m1.8 1.5h0m1.4-4.8h0m1.9 2.6h0m3.1-1.6h0m6.9-0.5h0m13.8 0h0m4.2 1.5h0m19.5 2.8h0m3.2-2.1h0m14.6 2h0m-318.7 1.7h0m11.3 1.3h0m1.9-0.7h0m1.7 1.3h0m3.5-1.1h0m1.3 0.6h0m1.3-0.3h0m2.7 0.3h0m1.8-0.2h0m0.8-1.2h0m1.6-1.1h0m0.4 2.2h0m0.6-1.3h0m1.5 1.8h0m0-2.9h0m5.3 2.8h0m1.7-1.8h0m1.2-1h0m2.8 4h0m1.2-3h0m0.8 0.4h0m1.2 0.8h0m1.3 2.2h0m0.2-2.3h0m2.2 0.1h0m0.5 2.7h0m1.7-2.3h0m3.6 1.7h0m0.1-1h0m2-2.2h0m27.3 0h0m2.3-0.9h0m2.5 0.2h0m0.3 1.7h0m0.9 1.7h0m0.1-1.1h0m0.3-0.4h0m1.1-1.3h0m4 1.8h0m0.9-1.5h0m2.5 1.6h0m30.2-2.2h0m32.5 2.1h0m1.5 0.5h0m0.1-1.4h0m0.7 0.8h0m2.3-2.5h0m2.6 0.4h0m1.2 0.1h0m1.2 1.5h0m0.5-0.5h0m0.2 1.5h0m1-2.9h0m2.3 4.3h0m20.7-2.5h0m0.7-0.5h0m2 2.4h0m0.7-0.9h0m3.8-1h0m0.7-1.3h0m1.9 3.9h0m3.5-3.6h0m1.2 1.2h0m1.8 2h0m0.9-2h0m2.3-2.3h0m0.5 0.2h0m1.6 0.5h0m0.7-0.1h0m0.3-0.5h0m1.3 4.3h0m0.4-4.4h0m0.1 4.1h0m0.7-2.7h0m0 0.7h0m0 2.1h0m4.7-2.5h0m3.2 1.9h0m2.7-3.2h0m2.2 3.4h0m0.6-2.9h0m0.1 3.5h0m1.2-0.4h0m1.5 0.9h0m0.8-2.2h0m1.6 1.6h0m0.1-4h0m1.6 0.2h0m0.9-0.6h0m1.2 2.7h0m2.2 0.2h0m0.3-0.5h0m0.2-1.4h0m2.6 2.8h0m1.5-3.2h0m2.9 3.7h0m0.7-3.5h0m1.2 1.8h0m0.6-2.5h0m0.6 1.8h0m0.8 1.8h0m3.4-0.4h0m1.7-1.3h0m5.2 0.3h0m0.7 0.8h0m6.5-2.2h0m21.1 0.6h0m-307.8 5.5h0m7.3-1.5h0m12.2 3h0m3.1-3.2h0m2.2 1.5h0m3.5 1.6h0m2 0.1h0m5-1.5h0m1.4 0.3h0m1.1 0.8h0m1.2-2.3h0m1.6 2.6h0m2.1-1.6h0m8.9 1.8h0m2.7 0.4h0m0.4-2.8h0m0.6 1.4h0m4.2 0.8h0m0.8-1.1h0m1.5 1.5h0m2.9-0.8h0m0.6 0.1h0m0.6-0.2h0m0.1 1.6h0m0.2-0.7h0m1.8 0h0m2-3.4h0m30.2 1.1h0m0.5 1.1h0m0.5 0.7h0m2 0.8h0m2-3.6h0m0.6 2.4h0m0.2-0.4h0m2.5-0.8h0m1.4 1.6h0m1.3 0.3h0m0-0.6h0m3.1 0.9h0m3.2 0.4h0m25 0h0m24.7-1.1h0m2.5 0.1h0m3-3h0m0.4 3.7h0m1.6-2.7h0m1.9 0.9h0m0.4 2.4h0m1-1h0m1-3.6h0m2.1 1.5h0m2.5 0.4h0m0.9-0.5h0m25 1.1h0m2.6-0.9h0m1.6 3.1h0m2.8-1.1h0m1.4-0.8h0m0.1-1.3h0m1.2-1.1h0m1.3 1.8h0m1.4 0h0m2.1 1.4h0m1.1-0.1h0m0-1.3h0m2.6-1.8h0m1.1 1.4h0m0.5-1.6h0m0.9 2.8h0m5.2 0.3h0m3.2-1.8h0m2.1 3.2h0m1.4-0.4h0m1.2-2.8h0m0 0.8h0m0.5-1.5h0m2 0h0m1.1 0.1h0m3.3 2.7h0m0.9 0.4h0m1.6-3.3h0m0.4 3.7h0m3.7 0.3h0m0.5-1.9h0m0.5 0.5h0m0.3 1h0m1-3.4h0m0.4-0.9h0m1.2 0.2h0m0.3 1.6h0m0.7-0.5h0m5.8 2.3h0m0-3.5h0m1.6 3h0m13.1-3h0m2.8 2h0m1.6 0.5h0m-259.8 3.1h0m5.4 2.8h0m1.9-2.1h0m0.8-1.1h0m0.9 4.6h0m3.5-3.4h0m0.5 1.8h0m0.1-2.9h0m0.9 0.9h0m0.6 3.3h0m13.4-0.6h0m2.1-3.6h0m1 0.4h0m1.1 0.7h0m47.7 0.6h0m1.9 1h0m3.2-1.9h0m1 2.2h0m1.5-1.9h0m1.6 1.6h0m50.6 0.4h0m1.4-0.2h0m2.3-2.7h0m2.6 4.4h0m2.4-0.6h0m1.3-4.3h0m1.3 2.3h0m27.8-0.7h0m2-1.4h0m1.2 2.3h0m1.5-1.4h0m2.2-0.6h0m0.3 4.4h0m2.9-1.4h0m1.6-2.9h0m1 0.8h0m0.8-0.5h0m7.9 1.5h0m0.8 0.9h0m0.5 1.5h0m4.3-0.5h0m0.1-2.4h0m0.7-0.1h0m0.4-0.7h0m1.3 2.4h0m0.4 0.7h0m0.4-4h0m0.2 1.3h0m1.4 0.2h0m3 1.9h0m0.2-1.8h0m1.1 1.2h0m0.8-1.2h0m1 2.3h0m0.5-2.8h0m2.3 0.2h0m1.6-0.3h0m2.5-1.1h0m2.1 1.2h0m0.6 3.3h0m1.6-1.5h0m1.9 1.2h0m0.1-0.4h0m0.8-0.1h0m0-3.5h0m2.2 1.6h0m1.3 2.4h0m0.9-0.4h0m2.4-3.4h0m0.2 0.5h0m11.9 1h0m1.2-1.3h0m3.8 1.6h0m0 1.4h0m11.3-2.1h0m-267 4.1h0m4.6 3.2h0m0.2-2.6h0m1.8 0h0m0.7 2h0m2.6 0.9h0m0.3-3.1h0m3.9 1.9h0m0.1-0.2h0m1.6-1.7h0m0.1 2.6h0m1.4 0.6h0m10.5-1.2h0m1.8 1.6h0m1-2.9h0m1.9 0.6h0m0.1-2.5h0m0.9 2.6h0m0.2-0.4h0m1.1 1.9h0m1.1-3.7h0m0.5 3h0m1.4 0.7h0m47-3.5h0m0.1 2.1h0m0.1 0.6h0m0.6-0.4h0m3.4 2.1h0m0.4-3.7h0m1 2.7h0m0.8-1.5h0m0.7 1.6h0m2.7-1.1h0m39.3 1.7h0m2-3.2h0m1.9 2.3h0m1.3-3.8h0m3.4 0.7h0m0.6 0.1h0m1.1 3.9h0m0.2-2.4h0m4.9-0.8h0m1.4 0.6h0m2.9-1.4h0m1.4 3.7h0m0.5-4h0m23.7-0.3h0m1.8 3.7h0m0.7-1.7h0m0.2-1.9h0m0.9 3.8h0m1.1 0.6h0m3-0.6h0m0.1-3.3h0m0.1 2.3h0m8-2.2h0m0.3 2.7h0m0.4-2.9h0m1.1 3.5h0m1.8-1.5h0m0.1-0.4h0m0.9-1.6h0m0.7 0.9h0m2.8 0.2h0m1.9 0.3h0m3.6-1.1h0m0.2 3.6h0m0.2-2.5h0m0.6 1.4h0m0.1-0.3h0m3.1-0.9h0m2.9 2.6h0m1.4-1.3h0m0-2.6h0m0.9 1.5h0m0.1-1.1h0m0.3 2.5h0m0.5-3h0m1.4 3h0m2-3.7h0m1.1 3.5h0m1.2-1.9h0m0.3-1.2h0m3.2-0.4h0m3 4.5h0m3.4-1h0m2.6-0.8h0m0.9-0.2h0m0.2 0.9h0m11.3-0.3h0m1.2 0.8h0m1.8-2.7h0m23.5 0h0m11.4 0.1h0m-307 3.7h0m3.6 4.2h0m1.4-0.5h0m24.9-2.4h0m3.1 2.8h0m1.1-3.2h0m1.8-0.2h0m1.8-0.6h0m0.8 3h0m2.1-1.9h0m0 2.5h0m5.4-2.7h0m1 3.3h0m2.4-2.2h0m0.1 2.7h0m3.4-2.7h0m0.9-1.6h0m1.3 1.2h0m1.3 1.5h0m52.1-1.9h0m0-0.5h0m1.4 3.5h0m2.2-2.9h0m2.4-0.7h0m41.4 1.8h0m3.2-1.4h0m0.4 3.7h0m2.5-3.6h0m0.9 1.9h0m1-0.5h0m0.1-1.1h0m0.7-1.3h0m1.3 1.5h0m3.2-0.2h0m0.5 0.4h0m1.4 0.2h0m1.4-1.7h0m20.3 2.1h0m0.7-1.8h0m1.1 1.7h0m0.9-1.5h0m2-1h0m0.7 2h0m1.3 0.2h0m0.3-1.4h0m1.4 1.8h0m0.4 2.3h0m4.5-1.9h0m3.5-2.6h0m4.9 1.1h0m1.5 2.1h0m1.9-1h0m0.6 1.4h0m2.4 0.2h0m0 0.2h0m0.5-4.2h0m2.7 4.2h0m1.6-0.3h0m1.2-1.3h0m0.6-1.2h0m1.5 2.6h0m0.3-0.8h0m2.2 0.2h0m1.1-1.1h0m0.8 0.1h0m1-0.1h0m3.4 1.1h0m1.3 1.3h0m0.6-1.3h0m0.6 0.8h0m1.2-2.7h0m0.2 1.3h0m5.1-2.8h0m0.1 3.4h0m0.8-1h0m0.5-2.6h0m0.6 0.8h0m3.5 0h0m0.3 1.5h0m0.5 1.5h0m0.1-2.6h0m0.4 2.6h0m1.4-2.2h0m1.5 0.3h0m1.3 1.4h0m6.5-1.8h0m7.3 2.3h0m2.8-2.2h0m4.6 0.2h0m11.9-0.8h0m1.2-0.2h0m-289 9.1h0m1.5-4.7h0m7.3 0h0m8.7 2.3h0m4.1 0.8h0m0.9-3.1h0m0.6 3.1h0m2 1.3h0m2.8-2.8h0m0.6 3.1h0m5.1-3.4h0m1.2 2.4h0m1.6-0.5h0m0.2-0.1h0m2 0.5h0m71.2-1.2h0m0.9-2.2h0m0.6 1.2h0m15.4-1.3h0m24.7 4.3h0m0.9-4.2h0m3.5 3.2h0m10.2-3.1h0m21.5 4.3h0m1.9-2.5h0m1.5 0.1h0m0.6-2h0m1 4.5h0m0.8-1.9h0m0.7 1.9h0m2-4h0m0.2 4h0m5.2-1.7h0m0 1.2h0m0.2-3.6h0m0 3.6h0m0.4-1.5h0m0.3 0.4h0m1-2.6h0m2.8 4h0m4.7 0.2h0m2.8-1.4h0m2.6-2.8h0m1.4-0.6h0m0.6 0.9h0m2.6 2h0m3.6-1.1h0m2.5-1.1h0m0.2 4.2h0m2.5-4.5h0m1.6 3.2h0m1.6-0.7h0m1-0.3h0m1.2 1h0m2.3-3.4h0m4.5 2.4h0m3.2 1.6h0m0.2-2.7h0m3.4 1.1h0m1.7 0.3h0m0.1 1.2h0m3.2 0.6h0m4.5-4.8h0m1.5 1.2h0m10.5 2.6h0m-254.8 1.5h0m12.2 0h0m4.2 2.1h0m0-1.1h0m0.5-1.1h0m1 1.8h0m1.6-0.1h0m1.2 0.7h0m6 0.1h0m67.4-2.4h0m1 2.2h0m2.2 2.2h0m1-4.5h0m1.9 4.4h0m29.4 0.4h0m3.9-3.5h0m1.6 2.5h0m1.4-2.7h0m1.1-1.2h0m3.1 1.6h0m37-0.4h0m1.6 2.3h0m2.3 0.3h0m2.4-3.1h0m3 3.8h0m1.4-1.7h0m3.3-1h0m0.1-1.4h0m1.4 0.3h0m2.2 3.6h0m0.5-0.5h0m3.2-2.7h0m0.4 1.7h0m13.3-2.8h0m2.9 0.4h0m1 0.6h0m1.6-1.1h0m3.3 1h0m3.4 2.4h0m2.8 0h0m1.2-0.8h0m0.4 0.2h0m0.4 1.6h0m0.4-3.8h0m1.5 3.6h0m2.8 0.7h0m5.7-1.7h0m11.3-0.9h0m11.4-2.2h0m10.2 4.9h0m-313.6 0.5h0m44.5 1.9h0m4.3 1.2h0m5.6 0.2h0m2.2 1.1h0m0.8-2.4h0m1-1.8h0m1.5 1.5h0m3.5-1.4h0m1-0.2h0m0.6 3.4h0m0.9 0.7h0m0.4 0h0m70-4.4h0m2.6 4.4h0m1.1-3.1h0m2.1 0.5h0m4.7-0.5h0m23.2 2.8h0m0.8-1.1h0m0.2 1.2h0m0.3 0h0m0.5-1.3h0m0.3 0.9h0m2.8-2h0m0.2 0.5h0m0.1 1h0m0.3-2h0m2.3 2.3h0m1.2-2.1h0m46.4 2.8h0m1.6-2.9h0m0.5-1.4h0m2.1 3h0m0.4 0.4h0m0.7-1.6h0m3.4 1.3h0m0.7-1.8h0m1 2.6h0m1.4 0.2h0m2-3.6h0m2-0.8h0m0.2 2.9h0m1.8 0.5h0m0.1 0.3h0m3.5-2.8h0m0.6 4h0m0.5-0.4h0m1.8-0.7h0m1.5-2.9h0m13.8 1.2h0m0.7-1.8h0m0 4.3h0m2.4-4.4h0m1.5 3.5h0m1.4 0.4h0m6.4 0.8h0m4.4-3.9h0m4.8-0.7h0m5.9 2.2h0m7.8 1.7h0m-268.8 2.5h0m19.9 3.2h0m2.7-0.2h0m3-4.5h0m0.1 0.8h0m2 0.4h0m1.4-0.9h0m0.6 4.3h0m1.7-1.9h0m0.1 1.3h0m0.5-2.2h0m0.2-1.3h0m3.6 1.2h0m0.7 1.4h0m70 0.7h0m0.9-3.9h0m0.6 1.6h0m1.9 2.6h0m1.1-3.3h0m1.1 0.1h0m0.5 2.5h0m23.6 1h0m2.6-0.8h0m2.5-1.7h0m1.6 2.1h0m2-2h0m54.7-1.7h0m2 0.8h0m3.4 3.6h0m2.6-1.7h0m0.9-3.2h0m0.1 3.6h0m0.4-1.5h0m3.1 2.1h0m2-0.5h0m0.7-0.1h0m2.8 0.4h0m0.9-2.4h0m14.5 2.8h0m2.9-2.6h0m0.8 2.6h0m0.2-3.2h0m5.1-0.5h0m0.9 2.1h0m9.4-2.3h0m1.1 4.4h0m0.7-0.2h0m4.4-0.5h0m-246.6 3.9h0m2.7-0.5h0m6.5 1.8h0m4.6-0.1h0m2-4.2h0m1.1 2h0m0.4-1.5h0m2.1 0.3h0m0.9 1.8h0m0.8 0.6h0m2.6 0.9h0m1.9 0.5h0m71.9-1.7h0m1.9-2.7h0m2.7 1.3h0m2.6-1.3h0m11.3 0.6h0m4.3 3.5h0m2.1-0.5h0m2 0h0m2.1-2.3h0m1.6 1.9h0m1.4-1.1h0m0.4-1.4h0m65.5 2.1h0m2.9-0.1h0m0.3-2h0m3.4 0.2h0m4.2 1.1h0m14.1 2.5h0m1.8-2.7h0m1.8 0.2h0m0.7 0.2h0m1.4-1.1h0m0.3 0.4h0m1.4 2.3h0m40.2-3.3h0m-271.7 8.9h0m3.5-3.8h0m6.6 1.2h0m1.2 0.8h0m4.3 0h0m2.7 1.6h0m4.5-3.6h0m1.6 1.5h0m2.6 0.6h0m0.9-0.2h0m0.2-0.2h0m2.5 0.6h0m1.4 1.1h0m68.9-2.2h0m3.7 0h0m0.1-1.9h0m1.4 0.9h0m0.8-0.1h0m0 2.1h0m2.4 1.1h0m0.1-1.8h0m2.1 2.5h0m0.1-1.7h0m11.9-1.2h0m1.5 1.4h0m0.5-2.4h0m2.3 2.9h0m1.4 0.6h0m1.1-1.4h0m2.5-2.6h0m0.2 1.2h0m0.8 0.5h0m1 1.2h0m0.1 0.9h0m87-2.1h0m0.8-1.3h0m0.1 3.6h0m3.5-3.2h0m0.2 0.6h0m0.2-0.2h0m0.1 0.2h0m3.6 0.6h0m2.6-1.7h0m2.2 2.7h0m0.2-3.4h0m2.6 1.6h0m0.9 1.7h0m9.2-0.1h0m26.5-2.9h0m-276.5 8.7h0m5.2-3.9h0m2.8 4.5h0m5.2-4.3h0m2.9 1.9h0m10.2-2h0m0.4 3.3h0m0.5 0.1h0m1.1 0.6h0m1.5 0.5h0m0.3-1.4h0m1.2-2.6h0m1.6 2.6h0m0.4 1h0m1.4-4h0m0.6 1.2h0m3.7 2.7h0m71.5-2.5h0m2.9 2.8h0m2.2-0.1h0m0.6-0.4h0m0.1-0.6h0m2.9-1.1h0m3.8 1.9h0m1.9-3.8h0m0 2.5h0m0.3 1.8h0m2.5-3.1h0m1.5 0.7h0m1.8 0.3h0m1.2 0.5h0m1.7-0.5h0m1.5-2.5h0m86.6 4.2h0m1.7-3.9h0m0.9-0.1h0m2.1 3.6h0m0.7-3.6h0m4.4 1.6h0m0.3-1.4h0m1.2-0.5h0m4 4.2h0m13.6 0.6h0m12.7-4.5h0m-278.3 8.4h0m7.1-1h0m10.1-0.1h0m3.7 0.6h0m10-2.2h0m0.8 0.2h0m5.9 2.4h0m1.3-2.9h0m2.4-0.7h0m2.6 1.2h0m1.5 0.2h0m1.9 3.4h0m3-3.9h0m0.6-0.7h0m0.3 3.8h0m1.7 0h0m0.5-2.1h0m1.8 0.8h0m70.7-2.7h0m0.7 4h0m1.9-0.3h0m1.3-1.3h0m5.1-1.6h0m0.6-0.5h0m0.6 2.7h0m0.6 1.3h0m0.9-3h0m3.7-1h0m95 1.1h0m3.6 1.2h0m0.5 2.2h0m1.3-3.2h0m3.2 1.1h0m0-0.1h0m1.2 1.6h0m0.8-1.1h0m0.1-1.8h0m0.4 3.2h0m0.6-2.1h0m1.6 2.1h0m-242.6 2.5h0m13.9-0.7h0m10.1 1.5h0m1.1-2h0m4.4 3.1h0m0.3-3.3h0m2.3 3.6h0m3.4 0.6h0m0.5-2.8h0m3.2-1.3h0m0.7 3.7h0m0.2-1.9h0m2 1.4h0m0.2-3.3h0m0.7-0.3h0m0.9 4.2h0m0-0.4h0m0.8-0.9h0m2.6-3.1h0m71.6 0.7h0m3 1.3h0m0.5 1.3h0m1.1 0.7h0m0.1-2.8h0m1 1.6h0m2-1.8h0m0.8 1.1h0m2.2-0.4h0m95.9 2.1h0m3.7-1.5h0m0.9-1.7h0m1.2 1.4h0m0 2.3h0m0.7 0.2h0m1.5-2.7h0m9 0.8h0m2.1 0.4h0m1.9-1.1h0m0.4 1.5h0m-240.7 4.8h0m17.3-1.9h0m6.1 2.4h0m1.6-0.8h0m1.4 1.4h0m1.9-2.8h0m0.8-0.6h0m7.2-0.8h0m0.7 1.7h0m0.3 1.3h0m1.4-1.9h0m0.4 2.1h0m173.8 1.2h0m8.5-1.4h0m0.9-2.8h0m0.7 3.2h0m-202.1 5.4h0m6.1-3.3h0m3.4 0.5h0m3.4 3.5h0m1.2-4.4h0m2.1 1.9h0m2.9 1.8h0m1.5-0.7h0m0.7 0.5h0m0.4 0h0m2.8-0.8h0m0.6 0.3h0m165.4-0.2h0m2-1h0m1 1.7h0m0.3-2.6h0m3.2 2.2h0m1.2-1h0m0.3-2.4h0m0.7 2.9h0m0.6 1.8h0m1.3-2h0m1.6-1.8h0m3.3 1h0m0.7 0.3h0m0.8-0.8h0m0.4 1.7h0m9.8-2.5h0m14.1-0.5h0m-228.6 6.7h0m3.6 0.3h0m0.7 1.5h0m6.5 0.4h0m3-3.6h0m3.1 0.9h0m3.6-0.1h0m0.3 1.2h0m1.3-0.2h0m161.7 2.5h0m3.9-4.3h0m1.1 1h0m2.3 0.5h0m1.8 1.7h0m1.3 1.1h0m1.2-0.8h0m2.3-2.9h0m0.2-0.4h0m2.5 3.6h0m1-0.9h0m4.2-3.3h0m1.3 0.9h0m1.6 1.8h0m0 1.1h0m13.3-3.1h0m-213 4.7h0m2.4 2.2h0m2.7 1.9h0m1-1.9h0m3.2-1.8h0m0.7-0.6h0m2.7 1h0m0.5-0.9h0m2 4.1h0m0-3.2h0m1.4 2h0m1.1 1.6h0m157.7-1.4h0m1-0.8h0m0.1-0.7h0m1.9 2.7h0m0.2-3.6h0m1.3-0.3h0m2-0.4h0m1.6 3.2h0m4.8 0.7h0m4.6-0.3h0m5.5-3.3h0m-192.4 7.6h0m2 0.6h0m1.9-3.6h0m1.5 0.7h0m0.4 1.1h0m0.2-1.8h0m2 1.5h0m1.7 2.6h0m0.8-0.6h0m2.6 0.1h0m0.1-1.8h0m0.8-0.4h0m0.7 0.6h0m1.4 1.9h0m1.6-1.7h0m144.5 1.6h0m2.6-2.1h0m1.3 2.3h0m0.4 0h0m2-4h0m0.3 4.3h0m1.2-3.6h0m3.5 2.6h0m4.8-1h0m0.5 2.2h0m2.5-2.3h0m1.7 1.7h0m5.8 0h0m-178.1 1h0m3.6 3.7h0m1.8-2.5h0m1.9 3.4h0m1.4-1.2h0m1-0.6h0m1.3-0.4h0m141.4 0.6h0m0.2-0.1h0m1 1.7h0m0.8-4.6h0m1.4 4.1h0m1.4 0.2h0m7.7-3.6h0m17.7 1h0m-197.4 5.6h0m7.5-2.3h0m4.4 1.3h0m2.3 1.4h0m3.6 0.4h0m1.3 1.1h0m2.2-1.3h0m1.8-0.2h0m0.7-2.7h0m0.6 0.2h0m0.7 2h0m1.1 0.9h0m0.9-1.5h0m133.5 1h0m0.5 1.1h0m2.2-0.6h0m4.7-0.9h0m2.3-1.4h0m0.6 0.3h0m0.4 1.6h0m2.9-2.4h0m0.6 0.7h0m0.1-0.6h0m0.4 3.8h0m3.4-3.8h0m-169.9 9.2h0m1.7-1.1h0m0.5-1h0m11.6-2.2h0m1.1 3.3h0m2.6-3.2h0m1.1 3.6h0m0.6-0.3h0m0 0.7h0m4.6-0.1h0m1.2 0.2h0m0.8-0.4h0m3.6 0.7h0m118.4-2h0m0.9 0.5h0m1.1-1.7h0m2.1 0.3h0m0.7 2.5h0m1.2-3.2h0m3.9-1.1h0m1.1-0.2h0m2.2 2.5h0m2-1.8h0m2.8 3.4h0m-153.4 4.4h0m0.1-1.8h0m1.7-0.7h0m0.6-0.1h0m2.6 0h0m0.4 3.2h0m0-0.7h0m2.3-0.2h0m0.2-0.8h0m1.3 1.9h0m1.9-1.9h0m1.1-1.3h0m2.8 2.5h0m0.3-1.2h0m1 2.1h0m2 0h0m0.6-3.6h0m0.5 2.1h0m0.5 1.4h0m3.2 0.5h0m104.4-0.7h0m1.8-0.3h0m3-1.4h0m0.5-1h0m1.9-0.3h0m0.7 2.4h0m0.7 0.1h0m0.6-0.6h0m0.9-2.7h0m1.2 1.9h0m0.6 1.2h0m10.7 0.5h0m-138.2 5.1h0m2.2-0.4h0m1.8-3.3h0m0.9 1.6h0m2.8 0.1h0m0.1 0.1h0m2.8-2h0m0 3.6h0m0.4-1.2h0m1.8 1.6h0m0.2-3.8h0m2.4 2.7h0m3 0.5h0m91.1-1.3h0m0.4-2h0m2-0.2h0m1.2 3.8h0m0.4-0.8h0m1-1.4h0m0.9-1.5h0m1.4 0.6h0m0.5 0.1h0m0.8 0.1h0m0.9 1.8h0m0.8-2.5h0m0.9 2.4h0m1.6-1.8h0m-110.5 8.2h0m0.7-2.5h0m3.3-0.2h0m0.7-0.5h0m0.3 2.2h0m2.5-2.7h0m0 3h0m0.1-0.3h0m1-1.7h0m0.7 2h0m0.4-0.1h0m0.5 1.3h0m0-1.2h0m1.1 1.4h0m0.3-0.4h0m0.2-2.3h0m0.2 2.7h0m1.8-2.5h0m0.1-0.8h0m0.1 3.1h0m1-1.2h0m0.2 1.4h0m0-3h0m1.2 2.5h0m1.4 0.5h0m0.1-0.4h0m0.3-3.8h0m1.8 2.2h0m0.2 2.1h0m0-1.2h0m0.5 0h0m1.6-0.6h0m0.1 1.7h0m1.6-2.3h0m0.9 1.2h0m0.2 0.6h0m0.1 0.5h0m1.1-3.3h0m0.4 3.2h0m0.7-2.2h0m0.4-0.9h0m1.3 3.3h0m0.6-0.1h0m0.7-2.2h0m0.9 2.1h0m0.8 0h0m1.2-1.4h0m0.6 1.5h0m0.2-0.3h0m0.6-0.2h0m1.6-0.4h0m0.5 0.8h0m0.1-1h0m0.6-0.5h0m0.1 0.5h0m0.3 1.1h0m0.5-0.4h0m0.7-1.1h0m0.3-1.8h0m0.5 2.9h0m0.1 0.3h0m0.8-2.7h0m0.1 0.9h0m0.2 0.7h0m0.8 0.8h0m0.9 0.1h0m0-2.4h0m0.2 2.6h0m0.2-0.8h0m0.3 1h0m0.7-0.1h0m0-1.8h0m1 0.3h0m0.1 1h0m0.2-0.3h0m1.1 0.7h0m0.2-0.1h0m1.1-1.9h0m1.3 2.1h0m0.6 0.1h0m0.2-0.5h0m0.3 0.5h0m0.9-0.6h0m0.7 0.4h0m0.9-1h0m0.1-0.2h0m0.3-0.4h0m0.4 1.2h0m0.1 0.4h0m0.3 0.1h0m0.9-0.5h0m0.2 0.6h0m1.1-2.3h0m0.1 1.1h0m0.6 0.1h0m0-2.4h0m1.9 3.4h0m0.4 0h0m0.6-1.5h0m0.2-0.2h0m0.9-0.8h0m0.9 2.1h0m0.2-0.9h0m0.1 1.3h0m1.3-0.5h0m0.5-0.8h0m0.8 1.4h0m1.3-3.3h0m0.4 3.2h0m0.6-3.8h0m0.4 3.8h0m0.1-3h0m2.5 2.9h0m0.1-4.1h0m0.3 3.5h0m0.3 0.2h0m2.9 0.5h0m0.6-2.1h0m0.5 0.3h0m0.1 1.5h0m0.3-0.3h0m0.7-0.4h0m1.3-2h0m1.9 2.2h0m1.2-0.2h0m0.1-1.6h0m0.5 2.3h0m0.5-0.2h0m0.5-0.4h0m1 0.1h0m1.2-1.1h0m0.5-1.7h0m0.3 3.6h0m0.9 0h0m0.2-0.7h0m0.6-0.6h0m0.6 0.9h0m0.2-2.5h0m0.5-0.9h0m0.6 3.7h0m1.7-1.4h0m0.9 1.4h0m1.1-3.6h0m0.8-0.1h0m0.5 2.4h0m0.8-1h0m0.3 1.6h0m0.9-1.5h0m0.1-1.2h0m1.3 3h0m1-4.1h0m0.3 3.6h0m0.8 0.6h0m1.8-2.3h0m7.3-1.3h0m-92 4.2h0m24.8-0.1h0m6.9 0h0m9.3 0.1h0m2.6 0h0m10.2-0.1h0m6.7 0h0m1.6 0.1h0m2.2 0h0m0.8 0h0" stroke="#2252b6" stroke-width="4.7" stroke-linecap="round" fill="none"/>
<path d="M460 564h7v1h-7zM460 565h7v1h-7zM460 566h7v1h-7zM487 566h8v1h-8zM459 567h8v1h-8zM473 567h8v1h-8zM487 567h8v1h-8zM459 568h8v1h-8zM473 568h10v1h-10zM487 568h8v1h-8zM459 569h8v1h-8zM473 569h10v1h-10zM487 569h8v1h-8zM459 570h8v1h-8zM473 570h10v1h-10zM487 570h8v1h-8zM646 570h7v1h-7zM447 571h9v1h-9zM459 571h8v1h-8zM473 571h10v1h-10zM487 571h9v1h-9zM644 571h10v1h-10zM683 571h13v1h-13zM447 572h9v1h-9zM459 572h8v1h-8zM473 572h10v1h-10zM487 572h9v1h-9zM644 572h10v1h-10zM683 572h13v1h-13zM447 573h9v1h-9zM459 573h8v1h-8zM473 573h10v1h-10zM487 573h9v1h-9zM644 573h25v1h-25zM683 573h13v1h-13zM447 574h9v1h-9zM459 574h8v1h-8zM473 574h10v1h-10zM487 574h9v1h-9zM644 574h25v1h-25zM683 574h13v1h-13zM445 575h11v1h-11zM460 575h7v1h-7zM473 575h10v1h-10zM487 575h9v1h-9zM644 575h25v1h-25zM683 575h13v1h-13zM445 576h11v1h-11zM460 576h7v1h-7zM476 576h20v1h-20zM644 576h27v1h-27zM683 576h13v1h-13zM445 577h11v1h-11zM460 577h7v1h-7zM476 577h10v1h-10zM489 577h8v1h-8zM644 577h27v1h-27zM683 577h13v1h-13zM445 578h11v1h-11zM476 578h10v1h-10zM489 578h9v1h-9zM644 578h27v1h-27zM683 578h13v1h-13zM445 579h15v1h-15zM475 579h11v1h-11zM489 579h13v1h-13zM644 579h27v1h-27zM681 579h15v1h-15zM445 580h15v1h-15zM469 580h17v1h-17zM489 580h13v1h-13zM644 580h28v1h-28zM681 580h15v1h-15zM445 581h15v1h-15zM469 581h33v1h-33zM643 581h29v1h-29zM681 581h12v1h-12zM445 582h15v1h-15zM465 582h37v1h-37zM641 582h31v1h-31zM681 582h12v1h-12zM445 583h57v1h-57zM640 583h19v1h-19zM665 583h7v1h-7zM681 583h11v1h-11zM445 584h57v1h-57zM639 584h19v1h-19zM665 584h7v1h-7zM681 584h9v1h-9zM446 585h46v1h-46zM495 585h11v1h-11zM639 585h19v1h-19zM665 585h7v1h-7zM681 585h9v1h-9zM446 586h46v1h-46zM495 586h11v1h-11zM639 586h18v1h-18zM662 586h10v1h-10zM681 586h9v1h-9zM446 587h46v1h-46zM495 587h12v1h-12zM639 587h18v1h-18zM662 587h10v1h-10zM681 587h9v1h-9zM446 588h10v1h-10zM461 588h31v1h-31zM495 588h14v1h-14zM634 588h23v1h-23zM662 588h8v1h-8zM681 588h9v1h-9zM446 589h10v1h-10zM461 589h31v1h-31zM495 589h15v1h-15zM634 589h24v1h-24zM662 589h8v1h-8zM682 589h8v1h-8zM461 590h31v1h-31zM495 590h15v1h-15zM630 590h28v1h-28zM662 590h8v1h-8zM682 590h8v1h-8zM461 591h31v1h-31zM495 591h15v1h-15zM630 591h28v1h-28zM662 591h8v1h-8zM682 591h8v1h-8zM467 592h19v1h-19zM495 592h15v1h-15zM630 592h28v1h-28zM662 592h8v1h-8zM682 592h8v1h-8zM467 593h19v1h-19zM495 593h15v1h-15zM630 593h28v1h-28zM682 593h8v1h-8zM445 594h10v1h-10zM467 594h19v1h-19zM495 594h15v1h-15zM630 594h28v1h-28zM682 594h8v1h-8zM445 595h10v1h-10zM460 595h21v1h-21zM484 595h8v1h-8zM495 595h15v1h-15zM615 595h7v1h-7zM630 595h30v1h-30zM682 595h8v1h-8zM445 596h10v1h-10zM460 596h21v1h-21zM484 596h21v1h-21zM615 596h7v1h-7zM630 596h10v1h-10zM648 596h12v1h-12zM682 596h8v1h-8zM445 597h10v1h-10zM460 597h21v1h-21zM484 597h21v1h-21zM615 597h13v1h-13zM632 597h8v1h-8zM648 597h15v1h-15zM445 598h10v1h-10zM460 598h45v1h-45zM615 598h13v1h-13zM632 598h8v1h-8zM649 598h14v1h-14zM445 599h10v1h-10zM460 599h16v1h-16zM479 599h30v1h-30zM615 599h13v1h-13zM632 599h8v1h-8zM651 599h12v1h-12zM445 600h10v1h-10zM460 600h16v1h-16zM479 600h30v1h-30zM615 600h25v1h-25zM651 600h12v1h-12zM446 601h30v1h-30zM479 601h30v1h-30zM615 601h23v1h-23zM651 601h12v1h-12zM448 602h12v1h-12zM463 602h46v1h-46zM617 602h21v1h-21zM651 602h12v1h-12zM448 603h12v1h-12zM463 603h1v1h-1zM472 603h23v1h-23zM498 603h11v1h-11zM617 603h21v1h-21zM650 603h13v1h-13zM453 604h7v1h-7zM463 604h1v1h-1zM472 604h23v1h-23zM499 604h14v1h-14zM617 604h22v1h-22zM642 604h21v1h-21zM672 604h7v1h-7zM453 605h11v1h-11zM472 605h23v1h-23zM499 605h14v1h-14zM611 605h55v1h-55zM672 605h7v1h-7zM453 606h11v1h-11zM472 606h23v1h-23zM500 606h13v1h-13zM611 606h68v1h-68zM453 607h11v1h-11zM472 607h23v1h-23zM500 607h13v1h-13zM609 607h72v1h-72zM453 608h11v1h-11zM472 608h16v1h-16zM500 608h13v1h-13zM609 608h72v1h-72zM453 609h11v1h-11zM475 609h13v1h-13zM499 609h14v1h-14zM609 609h72v1h-72zM455 610h9v1h-9zM476 610h12v1h-12zM499 610h14v1h-14zM609 610h72v1h-72zM455 611h9v1h-9zM476 611h18v1h-18zM499 611h18v1h-18zM609 611h72v1h-72zM455 612h9v1h-9zM476 612h18v1h-18zM499 612h18v1h-18zM609 612h72v1h-72zM455 613h9v1h-9zM476 613h18v1h-18zM499 613h18v1h-18zM609 613h17v1h-17zM629 613h52v1h-52zM455 614h39v1h-39zM499 614h18v1h-18zM609 614h17v1h-17zM629 614h9v1h-9zM643 614h38v1h-38zM455 615h39v1h-39zM497 615h20v1h-20zM609 615h8v1h-8zM622 615h4v1h-4zM629 615h8v1h-8zM643 615h38v1h-38zM455 616h62v1h-62zM609 616h8v1h-8zM622 616h14v1h-14zM643 616h38v1h-38zM456 617h61v1h-61zM609 617h8v1h-8zM622 617h14v1h-14zM642 617h37v1h-37zM456 618h61v1h-61zM617 618h19v1h-19zM641 618h14v1h-14zM659 618h20v1h-20zM456 619h34v1h-34zM493 619h24v1h-24zM617 619h19v1h-19zM640 619h15v1h-15zM659 619h20v1h-20zM456 620h34v1h-34zM493 620h24v1h-24zM617 620h19v1h-19zM639 620h15v1h-15zM659 620h27v1h-27zM456 621h34v1h-34zM493 621h24v1h-24zM609 621h27v1h-27zM639 621h15v1h-15zM659 621h27v1h-27zM456 622h13v1h-13zM472 622h39v1h-39zM596 622h9v1h-9zM609 622h27v1h-27zM639 622h15v1h-15zM659 622h27v1h-27zM456 623h13v1h-13zM472 623h39v1h-39zM596 623h9v1h-9zM609 623h27v1h-27zM639 623h15v1h-15zM659 623h1v1h-1zM663 623h23v1h-23zM456 624h13v1h-13zM472 624h39v1h-39zM596 624h9v1h-9zM608 624h28v1h-28zM639 624h21v1h-21zM663 624h23v1h-23zM456 625h13v1h-13zM472 625h49v1h-49zM596 625h39v1h-39zM639 625h21v1h-21zM663 625h23v1h-23zM456 626h13v1h-13zM472 626h49v1h-49zM596 626h39v1h-39zM639 626h21v1h-21zM663 626h23v1h-23zM456 627h65v1h-65zM596 627h39v1h-39zM639 627h47v1h-47zM456 628h65v1h-65zM596 628h39v1h-39zM639 628h47v1h-47zM456 629h65v1h-65zM600 629h34v1h-34zM647 629h32v1h-32zM453 630h68v1h-68zM600 630h34v1h-34zM647 630h32v1h-32zM453 631h27v1h-27zM483 631h38v1h-38zM600 631h30v1h-30zM647 631h24v1h-24zM453 632h27v1h-27zM483 632h44v1h-44zM594 632h36v1h-36zM634 632h37v1h-37zM453 633h21v1h-21zM477 633h3v1h-3zM483 633h44v1h-44zM594 633h36v1h-36zM634 633h37v1h-37zM453 634h21v1h-21zM477 634h3v1h-3zM483 634h44v1h-44zM594 634h37v1h-37zM634 634h37v1h-37zM453 635h21v1h-21zM477 635h52v1h-52zM594 635h37v1h-37zM634 635h27v1h-27zM670 635h1v1h-1zM453 636h79v1h-79zM594 636h67v1h-67zM670 636h1v1h-1zM453 637h80v1h-80zM594 637h67v1h-67zM670 637h7v1h-7zM456 638h77v1h-77zM594 638h72v1h-72zM670 638h7v1h-7zM456 639h77v1h-77zM594 639h72v1h-72zM670 639h8v1h-8zM456 640h77v1h-77zM594 640h72v1h-72zM670 640h11v1h-11zM456 641h77v1h-77zM594 641h32v1h-32zM629 641h25v1h-25zM657 641h9v1h-9zM670 641h11v1h-11zM453 642h80v1h-80zM594 642h32v1h-32zM629 642h25v1h-25zM657 642h24v1h-24zM453 643h80v1h-80zM594 643h32v1h-32zM629 643h25v1h-25zM657 643h24v1h-24zM453 644h82v1h-82zM594 644h32v1h-32zM629 644h52v1h-52zM453 645h85v1h-85zM594 645h32v1h-32zM629 645h19v1h-19zM651 645h30v1h-30zM453 646h21v1h-21zM477 646h61v1h-61zM594 646h47v1h-47zM651 646h30v1h-30zM453 647h21v1h-21zM477 647h61v1h-61zM594 647h47v1h-47zM651 647h30v1h-30zM453 648h21v1h-21zM477 648h61v1h-61zM579 648h11v1h-11zM593 648h48v1h-48zM651 648h30v1h-30zM453 649h85v1h-85zM579 649h66v1h-66zM650 649h31v1h-31zM461 650h77v1h-77zM579 650h40v1h-40zM622 650h23v1h-23zM650 650h22v1h-22zM461 651h77v1h-77zM579 651h40v1h-40zM622 651h36v1h-36zM661 651h11v1h-11zM461 652h77v1h-77zM579 652h40v1h-40zM622 652h36v1h-36zM661 652h11v1h-11zM461 653h78v1h-78zM579 653h40v1h-40zM622 653h36v1h-36zM661 653h11v1h-11zM460 654h79v1h-79zM579 654h44v1h-44zM627 654h31v1h-31zM661 654h12v1h-12zM460 655h79v1h-79zM579 655h44v1h-44zM627 655h46v1h-46zM460 656h79v1h-79zM578 656h45v1h-45zM627 656h46v1h-46zM459 657h82v1h-82zM577 657h47v1h-47zM627 657h46v1h-46zM459 658h82v1h-82zM576 658h97v1h-97zM459 659h82v1h-82zM576 659h97v1h-97zM459 660h82v1h-82zM576 660h58v1h-58zM637 660h36v1h-36zM459 661h83v1h-83zM576 661h55v1h-55zM637 661h36v1h-36zM459 662h84v1h-84zM576 662h55v1h-55zM637 662h36v1h-36zM459 663h84v1h-84zM576 663h55v1h-55zM637 663h35v1h-35zM459 664h85v1h-85zM576 664h57v1h-57zM636 664h36v1h-36zM465 665h79v1h-79zM572 665h100v1h-100zM465 666h79v1h-79zM572 666h100v1h-100zM465 667h79v1h-79zM572 667h71v1h-71zM648 667h24v1h-24zM461 668h85v1h-85zM572 668h71v1h-71zM648 668h23v1h-23zM461 669h85v1h-85zM572 669h71v1h-71zM648 669h22v1h-22zM461 670h85v1h-85zM572 670h71v1h-71zM647 670h23v1h-23zM461 671h86v1h-86zM572 671h98v1h-98zM461 672h86v1h-86zM572 672h98v1h-98zM461 673h86v1h-86zM572 673h98v1h-98zM461 674h86v1h-86zM572 674h98v1h-98zM461 675h86v1h-86zM572 675h98v1h-98zM464 676h83v1h-83zM572 676h97v1h-97zM464 677h83v1h-83zM573 677h96v1h-96zM464 678h85v1h-85zM573 678h96v1h-96zM464 679h87v1h-87zM573 679h96v1h-96zM465 680h88v1h-88zM571 680h97v1h-97zM465 681h89v1h-89zM564 681h104v1h-104zM470 682h84v1h-84zM564 682h104v1h-104zM470 683h84v1h-84zM563 683h104v1h-104zM470 684h84v1h-84zM563 684h104v1h-104zM470 685h85v1h-85zM563 685h104v1h-104zM470 686h85v1h-85zM560 686h107v1h-107zM470 687h85v1h-85zM560 687h107v1h-107zM474 688h81v1h-81zM560 688h107v1h-107zM475 689h80v1h-80zM560 689h107v1h-107zM475 690h80v1h-80zM560 690h107v1h-107zM475 691h80v1h-80zM560 691h106v1h-106zM474 692h81v1h-81zM560 692h106v1h-106zM474 693h192v1h-192zM474 694h192v1h-192zM474 695h191v1h-191zM474 696h191v1h-191zM474 697h190v1h-190zM474 698h187v1h-187zM474 699h187v1h-187zM474 700h187v1h-187zM474 701h187v1h-187zM473 702h188v1h-188zM473 703h188v1h-188zM473 704h188v1h-188zM473 705h188v1h-188zM473 706h188v1h-188zM473 707h181v1h-181zM473 708h181v1h-181zM478 709h176v1h-176zM480 710h174v1h-174zM480 711h174v1h-174zM480 712h174v1h-174zM480 713h174v1h-174zM483 714h171v1h-171zM483 715h167v1h-167zM483 716h167v1h-167zM483 717h167v1h-167zM483 718h167v1h-167zM483 719h167v1h-167zM483 720h167v1h-167zM486 721h161v1h-161zM486 722h160v1h-160zM492 723h150v1h-150zM492 724h150v1h-150zM492 725h150v1h-150zM492 726h153v1h-153zM492 727h155v1h-155zM494 728h153v1h-153zM494 729h153v1h-153zM494 730h153v1h-153zM494 731h153v1h-153zM494 732h153v1h-153zM495 733h152v1h-152zM495 734h141v1h-141zM495 735h140v1h-140zM495 736h140v1h-140zM495 737h140v1h-140zM495 738h139v1h-139zM495 739h139v1h-139zM498 740h136v1h-136zM508 741h126v1h-126zM509 742h121v1h-121zM509 743h120v1h-120zM509 744h119v1h-119zM509 745h111v1h-111zM515 746h105v1h-105zM516 747h103v1h-103zM517 748h102v1h-102zM517 749h102v1h-102zM522 750h96v1h-96zM523 751h95v1h-95zM527 752h90v1h-90zM533 753h55v1h-55z" fill="#4472c4"/>
<path d="M445.4 113.5h0m252 88.5h0m-352.5 57.4h0m-49.9 33.2h0m561.5 7.9h0m-483 7.4h0m30.6 4.9h0m443.3 7.4h0m-92.4 3.5h0m6.9 3.1h0m-349.6 4.7h0m372.5-2.3h0m54.4 0h0m-121.7 13.2h0m-269.8 14.6h0m361.1-1.2h0m-388.7 15.4h0m49.2-3.3h0m231.2 8.8h0m-396.5 1.7h0m74 11.6h0m-50 4h0m76 3h0m52.5-3h0m246.1 1h0m59.4 1.7h0m-332 2.3h0m40 2.6h0m201-2.6h0m43 5.5h0m102 2.5h0m-428.7 1.8h0m48.7 1.5h0m307-0.6h0m-406.1 5.7h0m102.1-2.3h0m-6.4 7.8h0m279.4-3.4h0m41 0h0m-395.4 8.6h0m297.4 0h0m-281.5 1.5h0m68.3 2.3h0m-61.1 4.3h0m45.3-0.9h0m30.5-0.6h0m10.6 4.1h0m12.2-4.1h0m-39.3 7.8h0m21.4-2.9h0m193.6 4.4h0m51.3 0h0m5.2-1.5h0m-381.2 2.3h0m31.7 0h0m36.6 3.5h0m24.4-1.5h0m9.6 1.5h0m286.7-2.3h0m28 0h0m64.7 2.3h0m-406.1 6.1h0m49.7-2.7h0m227.7-1.1h0m76.4-0.9h0m17.3 2h0m51.8 1.3h0m-396.1 6.5h0m-118.2 0.3h0m39.8 4.1h0m5.4-3.1h0m289.6 1.9h0m41.6 0h0m62-1.6h0m7.9 2.4h0m78.8-1.8h0m-501.5 6.2h0m7.9-1.4h0m3.7 1.6h0m21.3-1.6h0m85.5-0.7h0m209.1 3.1h0m59.2-2h0m85.8-1h0m-417.4 6.2h0m14.8-1.8h0m58 3.5h0m11.7-2.9h0m261 0.3h0m4.7-1.2h0m8.5 3.8h0m19.2-1.2h0m-391.6 2.2h0m43.8 1.8h0m13.1 1.8h0m9.4 0h0m7.2-3.3h0m15.2 3.2h0m205.3-1.9h0m4.8-0.5h0m27.1 2.7h0m83.6-1.1h0m2.3 0.6h0m22.2-0.7h0m10.9 0.8h0m-477.5 1.8h0m88.6 4.3h0m35.1-4.5h0m175.6 2.4h0m24.1 2.2h0m42.5-1.2h0m40.5-1.2h0m17.5 0.6h0m6.4 0h0m14.7 0.7h0m13.7 1h0m34.1 0h0m-393.9 2.3h0m5.3 2h0m65.1 0.3h0m40.7-2.8h0m87.2 2.3h0m70.7-2.5h0m24.6 2.4h0m29.8-3.6h0m16.6 1.5h0m5.8 0.3h0m4.1-0.3h0m-389 6.7h0m15.8-2.8h0m9 1.5h0m4.9 2.4h0m29.7-1.5h0m13.6 0.9h0m0.9 1.1h0m203.3-0.4h0m18.5-2.9h0m10.8 1.9h0m10.3 0.9h0m101.7-1.6h0m-441.6 3.8h0m8.2-0.1h0m28.7 3.3h0m1.3-0.8h0m22.5-2.2h0m7.2 2.4h0m216.6 0.4h0m6.3-0.7h0m11-1.8h0m83.2 2.8h0m9.9-3.3h0m1.4 2h0m-434.6 2.3h0m43.1-0.5h0m0.3 4.3h0m16.4-3.3h0m8.4 3.5h0m4.2-0.1h0m21.6-3.6h0m1.2 2.9h0m0-1.9h0m6.7 1h0m10.8 0h0m6.1-3.3h0m9.5 3.7h0m10.2-3h0m122.8 4.3h0m70.3-2.8h0m35.5 0.8h0m5 1.6h0m10.7-2.4h0m13.4 1h0m32.2 0h0m15.7 0.2h0m5.5 0.5h0m47.2-3.1h0m-468.2 5.2h0m26.9-0.3h0m14 1.4h0m4.8 0.8h0m2.7-0.1h0m31.7 0h0m8.5-0.6h0m3.3-1.6h0m20.6-0.3h0m185.6-0.2h0m18.8 4.8h0m1.4-0.1h0m24.5-1.3h0m59.8-3.4h0m26.3 3.9h0m-494.3 4.1h0m93.8 0.7h0m2.1-0.2h0m0.3-1.6h0m17.1 0.1h0m23.5-0.7h0m9.1 2.3h0m1.5 0.3h0m4.7-1h0m4.9 1.3h0m2.1 0.6h0m143.9-2.7h0m49.2-2h0m12.8 2h0m9.4 1.5h0m5-1.1h0m0.3 1.7h0m20-3.9h0m10.6 3.4h0m1.9-0.3h0m15.1-1.9h0m29.2 0.5h0m46.9-0.8h0m-437.3 5.9h0m28.1-0.6h0m10.2 1h0m4.2-2.1h0m0.4 3h0m3.5-2.4h0m1.8 2.2h0m5.1 0.5h0m4.9-2.7h0m16.9 3.2h0m11.4-2.6h0m11.9 0h0m7.1 1.4h0m7.2-1.9h0m138.4 1.8h0m19.5 1.9h0m14-1.1h0m13.1-0.8h0m3.1 0.1h0m4-1.4h0m9.6 1.4h0m9.2 1.6h0m0.8-0.1h0m6.9-0.3h0m17.6 0.4h0m27.7-3h0m-373.4 7.1h0m7-3.5h0m28.7 4.5h0m3.9-1.7h0m0.7-2.7h0m22.3 1.4h0m4.7 1.8h0m1.2-2.3h0m20.1 0.9h0m5.8 1.7h0m93.1-1.4h0m80.8 2.5h0m16.4-4.2h0m1.3 1.8h0m2.5 1.3h0m0.4-1.7h0m3.5-1.3h0m23.5 2.4h0m17.6-1.7h0m7.3 1.9h0m13.2-1.2h0m5.6-1.7h0m2.4 3h0m30-1.7h0m2.3 2.6h0m44.2-0.5h0m-434.7 5.8h0m14.7-2.6h0m11.5-0.3h0m5.8 2.1h0m1.3 0.8h0m5.8-0.5h0m6.2-1.6h0m19.5-2.1h0m8.7-0.3h0m18.1-0.2h0m2.6 2.2h0m4.8 1.9h0m15.1-4.1h0m2.3 1.8h0m0.5 0.2h0m142.2 2.8h0m9.3-2.3h0m6.2-0.6h0m9 0h0m1.7 2h0m6.7-2.6h0m10.3 0.8h0m2.9 1.8h0m10-0.2h0m4.4 0.2h0m4.4-2h0m5.6 3h0m13.6-4.6h0m2.4 3.5h0m22.1-0.7h0m13.3 0.4h0m-388.3 3.9h0m2.9 1.7h0m4.2-2.1h0m24.6-1.5h0m0.7 2.6h0m4.5-0.8h0m7.1 2.6h0m0.2-0.7h0m0.6-2.5h0m14.1 2.8h0m3-3.5h0m13.1 1.2h0m1.8-2h0m19.7 2.3h0m0.4 1.7h0m0.7 0.4h0m1-2.3h0m5.9 1.8h0m9-2.1h0m1.9 1.1h0m159.8 0.7h0m38 0.6h0m2.3-2.4h0m6.5-1.8h0m8.4 1.2h0m5.5 2.4h0m6.9-2.8h0m21.4-0.6h0m6.1 2.3h0m3.7 0.9h0m2.4-3h0m17.2 1.1h0m0.5 0.6h0m1.8-2.2h0m5.6 0.7h0m-362.2 7.5h0m4.1 0.5h0m0.5-1.4h0m3.6 0h0m0.1 2.3h0m12.9-1.1h0m11-1.9h0m6.1 2.3h0m1.2-0.7h0m1.2-1.1h0m6.8 0.1h0m3.7-1.1h0m8.9 3.1h0m1.5-1.1h0m0.2-2.8h0m3.7 2.1h0m9.9-1.1h0m4.7 1.5h0m2.4-2.3h0m152.9 2.1h0m8.6-0.9h0m5.2 2h0m3.2 0.1h0m18.8-2.9h0m1.4 3.3h0m6.2-3.3h0m5 2.8h0m4.1-3.1h0m1.3 0.8h0m4.4 0.6h0m1.6-1.6h0m2.5 3.4h0m3.5-0.3h0m4.7 0.5h0m8.5-1.8h0m4.9 1.2h0m6.2-2.8h0m2.8 2.8h0m8.3-2.5h0m5.1 2.8h0m7.4 0.8h0m58.8-3.7h0m-441.6 8.2h0m1.7-2.2h0m13.2 1.1h0m15.8-2.9h0m5.6 0h0m3.8 4.4h0m0.1 0.3h0m0.3-0.7h0m4-2.9h0m3.2 1.8h0m8.6-0.1h0m4.7-0.9h0m4.2 0.6h0m4.3-0.3h0m5.9-0.5h0m2.4-0.5h0m2.9-0.4h0m12 1.7h0m3.8-1.5h0m2.7-0.3h0m2.1 2.6h0m19.8 1.3h0m4.1-4h0m152.1 2.7h0m8.6 0.1h0m9.4-2.7h0m7.4 3.7h0m2.5-4.5h0m3.1 0.1h0m4.4 4.7h0m4.5-0.9h0m0.7-1.8h0m6.1-0.3h0m1.4 2.4h0m11.9-3.9h0m3.7 0.2h0m1 2.1h0m2.9-0.5h0m3.7-0.5h0m10.4 3h0m5.2-2h0m1-0.7h0m0.7 1.1h0m6.1-0.8h0m12.7-0.6h0m31.7 0.6h0m-388.8 4.7h0m32.3 2.2h0m1.5-1h0m2.1-2.1h0m0-0.7h0m2.4 1.9h0m7.9-0.7h0m1.9 1.8h0m3.6-1.9h0m3.4 1.9h0m3.5-2.8h0m3.9-0.2h0m0.2 1.5h0m8.1-0.9h0m0.2-1h0m2.3 1.6h0m2.2 2.9h0m5.4-1.4h0m2.7-0.9h0m5.6-0.9h0m2.5 3.6h0m110.8-2.6h0m27 1.3h0m2.9 0h0m0.8-2.2h0m6.8 1.5h0m3.6-2.7h0m4.3 1.8h0m2.1-0.3h0m2.1 0.7h0m6 1.9h0m4.3-3.2h0m7.8-0.1h0m1.6 1.1h0m9.8-1.2h0m1.4 3.8h0m0.5-2.9h0m0.4-0.9h0m3 2.9h0m4.4-1.1h0m3.7-1.5h0m8.3 3.6h0m3-2.4h0m1.1-1.5h0m1.6 2.7h0m16.6-3.4h0m0.7 2.1h0m38.9 1.5h0m11.8 0.8h0m-420.2 4.4h0m44.8 0.8h0m13.9-1.8h0m3.6-2.1h0m8-0.5h0m0.6 0.6h0m1.4 2.7h0m2.2-0.4h0m2.9-1.1h0m2.6-0.6h0m5.7 2h0m7.6 1.3h0m0.2-1.7h0m4.2-1.9h0m8.8 2.5h0m0.2-1.7h0m0.7 1.7h0m3-0.9h0m1.3-2.7h0m0.1 4.5h0m5.5-4.4h0m0.4 2h0m3.1 0.7h0m2.1 0.8h0m0-0.4h0m133.7-2.6h0m11-0.7h0m2.2 1.1h0m6.9 1.5h0m0.8 1.2h0m1.4 0.4h0m1.5-2h0m1.1 2.6h0m2.1-2.2h0m5.5 1.5h0m0.4-0.1h0m8.7-1.5h0m3.5-1.3h0m0.5 2.3h0m2.1 1.1h0m9.1-2.4h0m3.9 2.7h0m7.1-3.7h0m3.9 1.1h0m1.2 0.7h0m2.5 0.8h0m2.6-1.3h0m2.8-1.8h0m14.2 2.3h0m5.4-0.2h0m1.5-0.5h0m5-2.2h0m6.6 2.2h0m-335.9 3.9h0m25.8 1h0m7.6 0.2h0m2.3 0.9h0m2.2-2h0m3.2 0.2h0m1.1-0.1h0m1.4-0.9h0m3.6 0h0m3.4 0.6h0m0 2.4h0m1.4-2.3h0m0.2 1.7h0m1.2-2.3h0m3.6 4h0m0.6-4.1h0m1.1 2.4h0m0.2 0.4h0m5.4-0.2h0m2.6-0.4h0m2.8 0h0m3.8 1.9h0m4.7-2.7h0m0.6-1.5h0m0.5 1h0m1.6-0.2h0m0.6 1.8h0m1.9-3h0m0.7 1.9h0m0.8-0.6h0m1 3.4h0m0.1-3.6h0m2.8-0.5h0m1.3 2.2h0m0.5 0h0m2.2 1.4h0m1.5-3.5h0m5.2 1.1h0m128.2-1.5h0m1.2-0.2h0m0.3 0.6h0m3.7 1.5h0m6.2-0.6h0m6 0.6h0m10.7 0.7h0m1.9 0.2h0m0.7-2.6h0m1.4 0.2h0m0.6 1.1h0m0.1 2.3h0m0.2-1.3h0m7.3 0.8h0m2.2-1h0m1.2-2.5h0m2.9 1.2h0m0-0.7h0m0.1 4.3h0m0.6 0h0m0.1-0.7h0m2.4-4h0m3.1 0.4h0m2.4 0.4h0m0.7 0.4h0m2.5-0.2h0m2.7 2.4h0m5-1.4h0m2.6-0.4h0m4.3-1.3h0m0.5 0.7h0m3.7-0.9h0m1.9 2.1h0m4-1.4h0m0.9 2.2h0m2.4 0.3h0m4.2-1.5h0m1.1 1.3h0m2.4-2.1h0m21.7-1.3h0m14.7 0.9h0m9.8 1.1h0m36.7 0.8h0m2.2 1.2h0m-412.6 1.1h0m0.7 0.2h0m43.5 2h0m2.1-0.2h0m1.4 2.1h0m1.2-1.1h0m2.7-0.1h0m2.3 0.7h0m4.1-1.7h0m3.7 1.1h0m0.1 0.3h0m0.8 0.1h0m2.3-1.2h0m0.6 1.3h0m3-0.5h0m2.6-1.9h0m2.1 2.9h0m0.2-1.4h0m0.7-0.3h0m3.2 0.7h0m0 0.4h0m1 0h0m1.3-1.4h0m1.8 0.3h0m1.3 2.4h0m0.6 0.1h0m0.7-3.4h0m0.3 1.1h0m1.1 2.3h0m0.5-2.3h0m2.6 0.6h0m0.9-0.1h0m4.7 1.2h0m8-2.8h0m3.4 2.7h0m10.8-2.5h0m123.2-1.5h0m0.4 1.5h0m2.8 2h0m1.9 0.3h0m5-3.6h0m5.2 1.6h0m0.7 1.1h0m2-1.2h0m1 0.6h0m2.1 1.9h0m1.2-0.2h0m1.7-0.4h0m2.7-2.2h0m0.2-0.3h0m5.6 1.8h0m1.3 1.5h0m5.3-2.4h0m2.1 2.3h0m6.8-2.1h0m5 0.2h0m1.7 2.3h0m3.3-0.2h0m2.1 0.1h0m3.2-4.6h0m2.5 3.7h0m2.2 0h0m3-2.5h0m3 0h0m3-1.2h0m1.1 2.8h0m0.5-1.9h0m2.4-0.3h0m9.1 2.5h0m14.2-1.8h0m33.6-0.7h0m21.8 3.6h0m19.4-3.1h0m-437.1 5h0m44.7 0.7h0m6.3-1h0m6.5 2.7h0m5.7-3.4h0m1 2.3h0m0.9-0.9h0m1.9 3.3h0m1.8-0.7h0m0.2-1.5h0m3-2.6h0m1.1 1.1h0m0.8 0.2h0m1.2 2.5h0m0.1-1.2h0m3.7-0.4h0m0.2 1.6h0m6.3-0.2h0m0.8-3.5h0m4.1 1.7h0m0.7-0.6h0m4.3-0.9h0m1.1 2.3h0m0.3 1.3h0m1.1 0.5h0m0.3-2.7h0m1.1-1.8h0m4.6 2.1h0m0.9-0.8h0m0.1 0.7h0m1.1 2.7h0m4.5-0.5h0m0.5-0.9h0m2.7 0.2h0m2.9-0.8h0m3.3 1.5h0m0.5 0.5h0m0.9-1h0m3.7-2.3h0m3.2 0.9h0m1.7 2.1h0m7.5-0.7h0m125.8-1.4h0m3.9 0.6h0m0.4-1.8h0m1.7 1.5h0m2.8 1.7h0m4.8-3.8h0m0.4 4h0m0.4-0.5h0m2.1-2.1h0m2.9 0h0m0.7-0.4h0m2.5 1.9h0m2.6-0.8h0m2.9-2.1h0m1.5 0.3h0m2.6 1h0m2.1 0.9h0m5.6-2.5h0m3.6 3.7h0m1.8-3.6h0m0.6 0.5h0m1.2 3.8h0m9.7-4.1h0m2.5 0.6h0m1.8 0.8h0m0.8-0.1h0m0.2-0.8h0m2-1.1h0m3.4 4.5h0m0.7 0.2h0m2.6-2.1h0m0.4 0.2h0m1.6-2h0m0.8-0.2h0m5.3 3.1h0m10.2 0.6h0m6.6-2.4h0m65.8 2.6h0m-410.2 4.9h0m14.1-0.9h0m11.5-0.6h0m3.6 1.9h0m18.6-0.8h0m3.2-0.3h0m3 0.4h0m0-2.5h0m0.7 0.3h0m1.6 0.8h0m0.1 0.6h0m2.5 0.2h0m1.5 0.7h0m1.1-0.9h0m1.2 0.3h0m0.7-3.3h0m2.4 2.8h0m0.3-1.8h0m1.4 0.8h0m1.9 1.7h0m8.7 0.6h0m0.1-3.7h0m6.2 3.5h0m1.7-4.1h0m8.7 1h0m1.8 1.2h0m1.3 1.3h0m0.7-2.8h0m8.6 3.8h0m0.8-0.6h0m3.7-1.4h0m133.2 1.3h0m1.3-3.1h0m0 4h0m2.3-1.2h0m0.4 0.5h0m2.7 0.2h0m0.8 0.3h0m2.5-0.2h0m1.6-1h0m3.7-0.3h0m0.3-2.8h0m1.9 0.7h0m1.7 2.5h0m4.9-3.4h0m3.4 2.1h0m0.6 0.6h0m0.2-2.6h0m0.2 1h0m0.4 3h0m1.8-2.5h0m0.4 0.3h0m0.2 3h0m0.3-4.5h0m1.8 0.6h0m2.9 1.1h0m0.5 0.8h0m1 0.8h0m0.1-1.9h0m2.9 2.7h0m2.6-2.1h0m1-1.7h0m2.8 0.4h0m0.7 2.6h0m3.5-0.8h0m0.3-1.9h0m0.2 1.1h0m1.7 1.9h0m4.2-1.7h0m0.6-0.1h0m1.8 0.4h0m0.2-2.1h0m0.7-0.5h0m3.3 0.1h0m0.6 3h0m3.8-2.4h0m3 2h0m0.9-0.3h0m1.2 1.1h0m0.5-0.9h0m0.7-1.7h0m3.8-0.6h0m4.8 0.6h0m8.5 0.2h0m24.5 2.4h0m1.9-1.5h0m2.2-0.8h0m2.7 1.9h0m-396 3.2h0m34.4-0.2h0m13.2 1.9h0m8.2-2.7h0m1.2 3.7h0m23.5-3.1h0m0.6-0.4h0m1.1 2.6h0m1.2 0.6h0m3.1-2.5h0m10.7 0.3h0m1.5 0.3h0m5.4 3h0m0.7-2.8h0m1.6 1.8h0m0.8-3h0m1.4 1.7h0m0.4 1.9h0m0.3 0h0m0.4-3.3h0m0.5-0.4h0m1-0.8h0m0.3 1.6h0m10-0.9h0m3.2 3.4h0m1.8-2.3h0m10.7-0.9h0m1.1 0.5h0m131.4-0.7h0m1.1 1.6h0m0.7-0.5h0m2.4 0.6h0m3.6 0h0m0-0.9h0m4 1h0m11.2-1.9h0m14.8 0.1h0m0.5 3.5h0m3.8-2.5h0m0.3 1.3h0m1.6-0.3h0m0.1-1h0m0.3 2h0m0.2-1.7h0m1.4 2.9h0m0.8-1.4h0m0.8-1.4h0m2.3-1h0m0.2-0.5h0m0.3-0.4h0m0.1 1.6h0m2.3 3h0m11.7-4.5h0m0.3 1.3h0m0.5 1.6h0m5-1.9h0m5.5 1.1h0m8.9 2.3h0m9-4.4h0m0.4 1.3h0m0.2 2.8h0m46.9-0.4h0m11-2.1h0m4.3 1.5h0m-393.2 2.4h0m24.2 0.5h0m3-0.3h0m0.6-0.7h0m6.5 1.6h0m6.2 2.4h0m1.9-0.1h0m3.1 0.4h0m5.2-3.7h0m0.4 3.9h0m13.2-3.5h0m0.6 3.7h0m0.1-1.2h0m3.8-2.2h0m2.6 2.9h0m3.8-0.6h0m0.2-0.6h0m0.3-1.9h0m2.9 1.5h0m3.2-1.7h0m13.4 2.5h0m7.3-3h0m3.6 0.6h0m4.1 1.2h0m2.9 1.9h0m29.7-3.3h0m86.8 1h0m1.1 1.7h0m3.7-2.3h0m2.6 2.2h0m1-0.3h0m0.1-2.7h0m0.7 0.2h0m0.5 1.7h0m0.4 1.2h0m0.1-2.5h0m2.2-0.1h0m6.5 3.1h0m2-3.1h0m18.4 3.5h0m7.4-2.4h0m3.6 2.7h0m4.3-4.9h0m2.7 2.7h0m14.4-0.2h0m4.1-0.6h0m19.7 0h0m2.9 1.6h0m89.9-1.1h0m-413.1 4.6h0m0.7 2.2h0m29.6-2.5h0m2 0.3h0m7.1 0.7h0m4-1.5h0m3.5 1.2h0m9.6 2.3h0m0.7 0h0m3.5-0.4h0m31.8-3h0m2.8 0.1h0m6.7-1h0m3.7 2.6h0m1.6 1.7h0m117.8-1.1h0m0.2 1.1h0m6.5-1.9h0m1.3-1.6h0m1.5-0.1h0m0.3-0.5h0m0.1 1.1h0m5.2 0.2h0m1.6-1.5h0m15.8 2.3h0m2.2-2.6h0m2.4 4.2h0m1 0h0m3.1-3.1h0m0.4-0.9h0m3.7 3.9h0m1.5-1.6h0m2.2 2.1h0m0.5-3.1h0m0.2 1.4h0m0.6 0.8h0m3.6-3h0m2 0.6h0m9.6 2.5h0m0.2 1h0m1.5-4.8h0m4.6 1.8h0m3.3-1.8h0m1 2.2h0m3.4 0.1h0m0.1-0.4h0m3.6 2.4h0m-364.8 0.9h0m55.8 3.3h0m2.2-3.1h0m11.5 0.1h0m2.7 1.6h0m2.5-1h0m8.6-0.5h0m0.1-0.3h0m4.2 2.2h0m6.6-0.3h0m3.7-1h0m1.8-1h0m1.3 1.4h0m2.4 1.7h0m0.5-3.4h0m0.7 3.2h0m2-1.8h0m1.1-0.1h0m1.6 3h0m0.7-0.9h0m2.4-1.4h0m1.4 2.7h0m5.4-3.7h0m0.2 2.7h0m23.2 0.3h0m3.6-0.1h0m0.5-0.3h0m2.5-2.5h0m0.2 2.5h0m0.6 0h0m0-1.8h0m15.8-0.4h0m1.7 2.5h0m3.9-1.2h0m101 0h0m2.7-1.2h0m3.2 2.8h0m1-3h0m0.9-1h0m0.9 3.7h0m1.2-0.6h0m4.4 0.6h0m1.6-1.7h0m3.7 0.3h0m0.3-2.3h0m2.1 0.5h0m19.4 0.4h0m0.5 3.5h0m1.6-1.8h0m2.2-1.7h0m1.2 0h0m0.3 1.3h0m1.9 2.4h0m5.8-0.6h0m1.2 0.5h0m1.6-0.4h0m0.4-0.8h0m0.9 0.6h0m2.1-0.7h0m1.1-3.3h0m5 3.8h0m0.1-3.3h0m6.7 2h0m1.2-0.7h0m1.7 2.2h0m2.1-0.9h0m2-2.1h0m3.8-1h0m9.6 3.3h0m2.4-0.3h0m11.9 0.8h0m18.7-3.2h0m12.3 3.1h0m83.3-2.8h0m-438.2 8.5h0m11.5-3.8h0m1.9 0.2h0m2.2 1.5h0m7.2 0.6h0m19.3-1.7h0m2.1 3.4h0m0.7-4.9h0m6.9 1.2h0m2.5 2.1h0m0.6 1.2h0m0.6-3.6h0m1.1 3.1h0m0.4-1.1h0m1.2-0.9h0m0.3 0.9h0m0.7-0.1h0m0.6-1.7h0m0.8 0h0m1.8-0.7h0m1.4 2.2h0m22.1 0.2h0m3.8-1.4h0m2.8 1.9h0m2 0.6h0m1.3-0.7h0m12.8 1h0m0.3 0.8h0m3.4-2.8h0m35.7-0.7h0m64.9 2.6h0m2.4-0.9h0m2.2-0.8h0m2.1-1h0m0.4 1.1h0m0.4-2.2h0m0.6 0.9h0m0.1 2.8h0m4.2 0.4h0m0.3-0.7h0m2.7-0.1h0m0.2-2.3h0m0 2.6h0m1.6-0.6h0m10.2-0.8h0m3.1 0h0m0.9 2.1h0m0.4-1.3h0m3.3-1h0m10.7 0.7h0m0.8-0.1h0m1 2.1h0m2.4-4.8h0m5.3 1.7h0m0.1-1.2h0m2.7 4.2h0m0.5-2.7h0m4.7 1.5h0m0.3-1.3h0m1-1.6h0m1.4 2.8h0m1.1-0.2h0m0.6 0.4h0m1.1-1h0m0.2-0.9h0m0.3 0.4h0m5.5 1.5h0m2.3 0h0m0.1 1h0m1.6-0.4h0m6.8-3.3h0m0.5 0.6h0m-340.2 4.8h0m68.1 1.1h0m1.1-1.2h0m2.2 1h0m5.3 0.5h0m6.6-2h0m4.3 2.3h0m7.7-2.1h0m1.7 3.1h0m2.8-1h0m0.6 0.8h0m0.6 0h0m1.2-2h0m2.6 2.1h0m4.5 0.5h0m2.1 0.1h0m5.4-4.1h0m2.4 4.3h0m1.4-3.9h0m4.1 0.2h0m21-0.1h0m3.6 1.5h0m2.4-0.7h0m2.2-1.2h0m1 4h0m93.6-0.6h0m2.4 0.4h0m1.5-1.2h0m0.8-1.7h0m3.3 1.6h0m0.3-3.1h0m12.9 2.7h0m3.5 0.2h0m7.7-0.7h0m0.1-0.8h0m3.3 2.6h0m0.2 0.4h0m0.9-2.9h0m0.3-0.4h0m5-0.8h0m1.5 0.7h0m11.4 3.7h0m0.1-4.8h0m0.8 0.2h0m0.5 0.7h0m0.9-0.4h0m0.5 2.4h0m1.2 1.2h0m0.1-1h0m8.3-1.9h0m0.7 2.5h0m1.3 0.2h0m0.3-3.7h0m3 4.3h0m4.7-3.8h0m0.3 0.8h0m2.5 2.8h0m1.3-3.3h0m0.6-0.2h0m0.1 1h0m6.3 0.7h0m3.1-1.5h0m10 3.6h0m2.1-2.3h0m6 0.4h0m1.4 1.4h0m15.8 0.7h0m1-0.4h0m-331.8 1.5h0m16.7 1.4h0m3.4-1.8h0m13.2-0.2h0m4.3 2.1h0m1.2-1.1h0m2.6 1.4h0m1.8 0.6h0m2 0.3h0m0-1.5h0m5-0.2h0m0.1 1.8h0m5.9-1.1h0m3.9-0.3h0m1.6 1.9h0m0.6-0.6h0m0.6-0.1h0m0.7-0.8h0m5.1-0.3h0m3.9-2.3h0m18.8 0.5h0m4.5 0.2h0m0.8 2.5h0m0-0.7h0m11.8-0.9h0m0.3 0.6h0m0.5 0.7h0m1.7-0.7h0m90.8 2h0m2.4 0.3h0m4.4-1.4h0m3.7 0h0m1-0.5h0m21.6-0.9h0m3.6 0.5h0m0.3-0.3h0m1.8-2h0m0.8 1h0m6.4-0.6h0m14.8 3.3h0m2.1 0.2h0m3.1 0.2h0m0.9-0.2h0m0.6-2h0m2.4-1.5h0m0.3 0.7h0m2.3-0.1h0m0.8 3.7h0m0.9 0h0m5.8-2.6h0m0.2 0.6h0m0.9-0.6h0m2.5-1.6h0m14.4 1.7h0m1.4-1.9h0m2.4 0.7h0m15.7-0.4h0m5.8 0.3h0m1.7 2.9h0m16-2.5h0m-341.7 6.6h0m10-1.1h0m2.9 1h0m0.1 0.6h0m4.2-0.4h0m10.8 1.4h0m5.4-1.7h0m1.8 1.4h0m1.1-0.2h0m3.6-0.1h0m2.3-1.4h0m0.4 1.5h0m0-3.6h0m0.8 3.3h0m0.1-2.6h0m0.9 1.8h0m0.2 1.4h0m1.1-3.4h0m0.4 1.2h0m2.2-1.2h0m0.2 0.8h0m0.1-1h0m1.1 1.3h0m8.8 1h0m4.5-0.6h0m0-0.7h0m0.9-0.9h0m0.5 2.5h0m1.9 1.2h0m1.1-3.3h0m3.7 0.7h0m1 1h0m10.4-0.7h0m4.4-2h0m0.1 3.4h0m0.1-3.1h0m1.5 4.4h0m0.6-4.2h0m0.5 3.8h0m0.3-4.4h0m4.9 2.6h0m0.9-1h0m12 0.9h0m0.1-0.8h0m4.5 3.1h0m1.2-2.4h0m78.7 1.4h0m1.1-0.6h0m4.4-1.3h0m0.2 2.6h0m2.5-0.2h0m0 0.6h0m2.7-2.2h0m0.5 0.9h0m16.8 1.3h0m56.1-3.8h0m1.5-0.5h0m2.5 3.9h0m1.7-3.6h0m1.9 1.9h0m2.7 0.6h0m4.3-2.8h0m0.2 0.2h0m2 3.3h0m7.9-1.2h0m0.3 0.6h0m0.1-1.2h0m5.3 1.8h0m2.7-1.6h0m2.6-1.3h0m2.9 2.5h0m36.7 1.1h0m14.2-3.9h0m-355.1 6.9h0m2.2-1h0m8.2-1h0m10.9 0.9h0m3 2.1h0m2.2-2h0m4.4 2h0m2.2-2.6h0m0.6 2.2h0m3.5-1.4h0m0.2 1.3h0m0.3-0.4h0m2.4-1.5h0m0.1-0.9h0m0.1 0.6h0m0.8 3.1h0m7.2-2.1h0m2.8 0.1h0m2-2.1h0m7.1 1.3h0m18.4 2.1h0m3.5-0.6h0m2-1.6h0m16.5 3.3h0m0.2-3.9h0m0.4 2.7h0m50.2-0.6h0m32.9 0.1h0m1 1.9h0m1.1-3.4h0m0.3-0.3h0m2.7 2.4h0m2.3 0.3h0m2.4-1.6h0m4.9 2.3h0m0.5-0.1h0m1.1-1.7h0m8.9 0.3h0m3.5 0.4h0m1.3-1.5h0m6.4 1.2h0m1.1-1h0m0.4-1.5h0m3.1-0.2h0m3.1 1.6h0m10.9 2.6h0m23.9-0.8h0m0.6-0.3h0m1.5-3h0m0.6 1.5h0m0.2 2.1h0m2.1-2.1h0m5.3-0.3h0m1.6 0.1h0m5.6 1.9h0m3.1-2.6h0m10.7 0h0m8.5-0.7h0m2.9 1.1h0m7.3 1.3h0m6-1.4h0m4.3 0.2h0m16.8 0.8h0m7.9 2.5h0m-380 4.2h0m13.8-3.8h0m9.6 3.1h0m0.7-3.3h0m10.5 2.1h0m9 1.1h0m5.5 1.7h0m9.7-1h0m0.3-2.5h0m2.1 0.8h0m0.8-1.1h0m3.7 1.6h0m1.4 0.9h0m1.6-1.2h0m2.4 1.5h0m0.2 0.2h0m0.9-1.9h0m14.8 1.2h0m18.7-2h0m0 3h0m4.1-1.6h0m22.1 1.9h0m1-0.8h0m0.2-0.7h0m1.3-2h0m3.9 0.5h0m70 3.1h0m1.9-3.9h0m2.1 3.9h0m1.1-4.7h0m1.5 4.8h0m1.5-2h0m0.4 0.7h0m2.3 0.4h0m0.1-0.6h0m0.1 0.6h0m0.5-1.2h0m0.2-0.5h0m0.1 0.9h0m0.4-2.6h0m1.4 0.4h0m0.3 1.3h0m1.4-1.6h0m2.2 3.1h0m1.8-0.4h0m0.3-2.3h0m1.3 2.1h0m4.8-2.5h0m4.5-0.6h0m13.6 4.1h0m4.2-2.3h0m2-1.3h0m0.1 0.3h0m11.8 1.4h0m6-0.1h0m1.1 2h0m2.2 0h0m19.1-1.8h0m0.4-0.3h0m1.3-0.6h0m1.2 0.3h0m0.9 1.9h0m1.3-2.3h0m0.1 3.4h0m4.4-2.7h0m4.8 0.9h0m2.2 1.6h0m10-0.7h0m-272.8 1.1h0m5.6 2.1h0m8.6-1.2h0m1.6 0.9h0m0.7-0.8h0m1.5 1.3h0m2.6-1.5h0m11.4 2h0m0.2-1.4h0m0.1-0.7h0m1.7 4h0m39.9-4.5h0m0.8 2.5h0m6.2-0.9h0m0.2-0.8h0m0.9 1.8h0m2.3 1.2h0m0.8-2.4h0m2.9 0.6h0m0.2 2.2h0m3.7-2.8h0m64.9-0.4h0m2.5-0.4h0m8.8 0.3h0m0.2 1.3h0m1 0h0m2.8-0.2h0m25.9 2.1h0m2.9-3.4h0m0.3-0.4h0m1.2 1.5h0m14.9-0.9h0m1.8 1h0m3-1h0m0.7 0.1h0m4.5-1.1h0m0.2 3.1h0m23.1-2.3h0m6.9-0.5h0m13.8 0h0m4.2 1.5h0m19.5 2.8h0m3.2-2.1h0m14.6 2h0m-318.7 1.7h0m11.3 1.3h0m1.9-0.7h0m1.7 1.3h0m3.5-1.1h0m1.3 0.6h0m1.3-0.3h0m2.7 0.3h0m1.8-0.2h0m0.8-1.2h0m12.3-1.3h0m7.3 4.4h0m2.9 0.5h0m1.7-2.3h0m39.4-0.3h0m1.1-1.3h0m4 1.8h0m0.9-1.5h0m2.5 1.6h0m30.2-2.2h0m32.5 2.1h0m1.5 0.5h0m0.1-1.4h0m0.7 0.8h0m1.1-1.2h0m1.2-1.3h0m2.6 0.4h0m1.2 0.1h0m1.2 1.5h0m28.1 0.9h0m4.5-2.3h0m1.9 3.9h0m3.5-3.6h0m1.2 1.2h0m1.8 2h0m0.9-2h0m2.8-2.1h0m1.6 0.5h0m25.9 1.9h0m2.2 0.2h0m0.3-0.5h0m2.8 1.4h0m1.5-3.2h0m2.9 3.7h0m0.7-3.5h0m1.2 1.8h0m0.6-2.5h0m0.6 1.8h0m0.8 1.8h0m3.4-0.4h0m1.7-1.3h0m5.2 0.3h0m0.7 0.8h0m6.5-2.2h0m21.1 0.6h0m-307.8 5.5h0m7.3-1.5h0m12.2 3h0m3.1-3.2h0m2.2 1.5h0m3.5 1.6h0m2 0.1h0m5-1.5h0m21-1.9h0m3.2 3.3h0m0.8-1.1h0m1.4-1h0m3 1.7h0m43.8-1.3h0m2.7 1.9h0m0-0.6h0m3.1 0.9h0m3.2 0.4h0m25 0h0m24.7-1.1h0m2.5 0.1h0m3-3h0m0.4 3.7h0m0.7-1.3h0m0.1-0.9h0m0.8-0.5h0m1.9 0.9h0m2.4-2.2h0m33.1 1.6h0m4.4 2h0m12.8-3.4h0m14 1.3h0m0 0.8h0m6-1h0m0.9 2.3h0m0.9 0.4h0m1.6-3.3h0m0.4 3.7h0m3.7 0.3h0m0.5-1.9h0m0.5 0.5h0m0.3 1h0m1-3.4h0m0.4-0.9h0m1.2 0.2h0m0.3 1.6h0m0.7-0.5h0m5.8 2.3h0m0-3.5h0m1.6 3h0m13.1-3h0m2.8 2h0m1.6 0.5h0m-259.8 3.1h0m5.4 2.8h0m1.9-2.1h0m0.8-1.1h0m0.9 4.6h0m3.5-3.4h0m76.6 1.6h0m50.6 0.4h0m1.4-0.2h0m2.3-2.7h0m2.6 4.4h0m2.4-0.6h0m1.3-4.3h0m32.3 2.5h0m26.7 1.7h0m12.5-3h0m2.5-1.1h0m2.1 1.2h0m0.5 1.9h0m0.1 1.4h0m5.4-3.8h0m1.2 1.1h0m4.6-1.4h0m0.2 0.5h0m11.9 1h0m1.2-1.3h0m3.8 1.6h0m0 1.4h0m11.3-2.1h0m-267 4.1h0m4.6 3.2h0m0.2-2.6h0m1.8 0h0m0.7 2h0m2.6 0.9h0m0.3-3.1h0m22.3 1.3h0m1 0.1h0m55.9-1.3h0m1.8 1.2h0m3.4 0.5h0m39.3 1.7h0m2-3.2h0m1.9 2.3h0m1.3-3.8h0m3.4 0.7h0m0.6 0.1h0m0.1 0.6h0m1 3.3h0m0.2-2.4h0m4.9-0.8h0m1.4 0.6h0m0.2-0.8h0m30.8 0.8h0m0.2-1.9h0m0.9 3.8h0m14.1 0.1h0m1.8-1.5h0m2.5 0.3h0m3.9-0.9h0m7.8 0.2h0m9.5-2.1h0m14.8 2.7h0m0.9-0.2h0m0.2 0.9h0m11.3-0.3h0m1.2 0.8h0m1.8-2.7h0m23.5 0h0m11.4 0.1h0m-307 3.7h0m3.6 4.2h0m1.4-0.5h0m24.9-2.4h0m3.1 2.8h0m19.9-2h0m0.9-1.6h0m60.7 0.2h0m41.4 1.8h0m3.2-1.4h0m5.6-0.9h0m1.3 1.5h0m3.2-0.2h0m25.4 0.9h0m3.6-0.5h0m22.7 2.2h0m0.5-4h0m4.3 3.9h0m1.2-1.3h0m0.6-1.2h0m6.9 0.9h0m3.4 1.1h0m9.9-1h0m4.9-0.3h0m0.5 1.5h0m0.5 0h0m1.4-2.2h0m1.5 0.3h0m0.9 1.3h0m0.4 0.1h0m6.5-1.8h0m7.3 2.3h0m2.8-2.2h0m4.6 0.2h0m11.9-0.8h0m1.2-0.2h0m-289 9.1h0m1.5-4.7h0m7.3 0h0m8.7 2.3h0m4.1 0.8h0m0.9-3.1h0m0.6 3.1h0m2 1.3h0m2.8-2.8h0m0.6 3.1h0m5.1-3.4h0m77.1-1.1h0m0.6 1.2h0m15.4-1.3h0m24.7 4.3h0m0.9-4.2h0m39.2 0h0m4.5 0.5h0m0.2 4h0m34.4-2.4h0m0.2 0.5h0m1 0.1h0m1-0.1h0m1-0.3h0m11.4-1.1h0m3.4 1.1h0m1.7 0.3h0m0.1 1.2h0m3.2 0.6h0m4.5-4.8h0m1.5 1.2h0m10.5 2.6h0m-254.8 1.5h0m12.2 0h0m4.2 2.1h0m0-1.1h0m0.5-1.1h0m81.4 0h0m1.9 4.4h0m29.4 0.4h0m3.9-3.5h0m50.5-0.7h0m4.4 2.1h0m3.3-1h0m3.7 2.5h0m0.2-1.3h0m34.2 1.3h0m0.4-3.8h0m1.5 3.6h0m2.8 0.7h0m5.7-1.7h0m11.3-0.9h0m11.4-2.2h0m10.2 4.9h0m-313.6 0.5h0m44.5 1.9h0m4.3 1.2h0m5.6 0.2h0m2.2 1.1h0m0.8-2.4h0m2.5-0.3h0m82.2-0.1h0m4.7-0.5h0m23.2 2.8h0m0.8-1.1h0m0.2 1.2h0m0.8-1.3h0m3.1-1.1h0m0.2 0.5h0m55.6-0.5h0m4.1-0.5h0m8.4 1.8h0m0.1 0.3h0m26.3 0h0m1.4 0.4h0m6.4 0.8h0m4.4-3.9h0m4.8-0.7h0m5.9 2.2h0m7.8 1.7h0m-268.8 2.5h0m19.9 3.2h0m2.7-0.2h0m3-4.5h0m0.1 0.8h0m2 0.4h0m0.7 1.3h0m0.7-2.2h0m3.1 0.2h0m78.8 0.3h0m1.1 0.1h0m0.5 2.5h0m23.6 1h0m2.6-0.8h0m70.2-1.7h0m3.1 2.1h0m2-0.5h0m21.8-1.9h0m0.8 2.6h0m0.2-3.2h0m5.1-0.5h0m0.9 2.1h0m9.4-2.3h0m1.1 4.4h0m0.7-0.2h0m4.4-0.5h0m-246.6 3.9h0m2.7-0.5h0m6.5 1.8h0m4.6-0.1h0m2-4.2h0m86.3 1.5h0m2.6-1.3h0m11.3 0.6h0m4.3 3.5h0m2.1-0.5h0m2 0h0m0.7-2.1h0m0.6 0.8h0m0.3-1.1h0m0.5 0.1h0m1.6 1.9h0m95.8-1.2h0m0.7 0.2h0m1.4-1.1h0m0.3 0.4h0m1.4 2.3h0m40.2-3.3h0m-271.7 8.9h0m3.5-3.8h0m6.6 1.2h0m1.2 0.8h0m3.9-2.6h0m0.4 2.6h0m2.7 1.6h0m4.5-3.6h0m1.6 1.5h0m0.6 1.3h0m79.7-3.5h0m1.4 0.9h0m0.8-0.1h0m2.5 1.4h0m2.2 0.8h0m11.9-1.2h0m1.5 1.4h0m0.5-2.4h0m1.6 2.9h0m0.7 0h0m2.5-0.8h0m96.2-1.2h0m0.2-0.2h0m0.1 0.2h0m3.6 0.6h0m2.6-1.7h0m2.2 2.7h0m0.2-3.4h0m2.6 1.6h0m0.9 1.7h0m9.2-0.1h0m26.5-2.9h0m-276.5 8.7h0m5.2-3.9h0m2.8 4.5h0m5.2-4.3h0m2.9 1.9h0m10.2-2h0m0.4 3.3h0m0.5 0.1h0m1.1 0.6h0m1.5 0.5h0m0.3-1.4h0m1.2-2.6h0m2 3.6h0m82.3 0.1h0m0.6-0.4h0m0.1-0.6h0m2.9-1.1h0m1 1.4h0m4.7-3.3h0m101.8 3.5h0m0.7-3.6h0m4.4 1.6h0m0.3-1.4h0m1.2-0.5h0m4 4.2h0m13.6 0.6h0m12.7-4.5h0m-278.3 8.4h0m7.1-1h0m10.1-0.1h0m3.7 0.6h0m10-2.2h0m0.8 0.2h0m5.9 2.4h0m1.3-2.9h0m2.4-0.7h0m2.6 1.2h0m1.5 0.2h0m1.9 3.4h0m3-3.9h0m0.9 3.1h0m78.6-1.6h0m5.1-1.6h0m0.6-0.5h0m0.4 4.4h0m0.2-1.7h0m104.3 1.8h0m1.3-3.2h0m3.2 1.1h0m0-0.1h0m1.2 1.6h0m0.8-1.1h0m0.1-1.8h0m0.4 3.2h0m0.6-2.1h0m1.6 2.1h0m-242.6 2.5h0m13.9-0.7h0m10.1 1.5h0m1.1-2h0m4.4 3.1h0m0.3-3.3h0m2.3 3.6h0m3.4 0.6h0m0.5-2.8h0m0.8-0.1h0m2.4-1.2h0m0.7 3.7h0m0.2-1.9h0m0.3-1.5h0m0.3 0.5h0m1.4 2.4h0m0.2-3.3h0m0.7-0.3h0m83.6 0.8h0m2.2-0.7h0m102.5 4h0m0.7 0.2h0m1.5-2.7h0m9 0.8h0m2.1 0.4h0m1.9-1.1h0m0.4 1.5h0m-240.7 4.8h0m17.3-1.9h0m6.1 2.4h0m1.6-0.8h0m1.4 1.4h0m1.9-2.8h0m0.8-0.6h0m7.2-0.8h0m0.7 1.7h0m185.3-1.5h0m0.7 3.2h0m-202.1 5.4h0m6.1-3.3h0m3.4 0.5h0m3.4 3.5h0m1.2-4.4h0m182.9 3.1h0m2.8 1.3h0m2.9-3.8h0m3.3 1h0m0.7 0.3h0m0.8-0.8h0m0.4 1.7h0m9.8-2.5h0m14.1-0.5h0m-228.6 6.7h0m3.6 0.3h0m0.7 1.5h0m6.5 0.4h0m3-3.6h0m3.1 0.9h0m174.2 0.6h0m1.8 1.7h0m1.3 1.1h0m1.2-0.8h0m2.3-2.9h0m0.2-0.4h0m2.5 3.6h0m1-0.9h0m4.2-3.3h0m1.3 0.9h0m1.6 1.8h0m0 1.1h0m13.3-3.1h0m-213 4.7h0m2.4 2.2h0m2.7 1.9h0m1-1.9h0m3.2-1.8h0m3.4 0.4h0m165.7 3.4h0m5.1-1.1h0m4.8 0.7h0m4.6-0.3h0m5.5-3.3h0m-192.4 7.6h0m2 0.6h0m1.9-3.6h0m1.5 0.7h0m0.4 1.1h0m0.2-1.8h0m3.7 4.1h0m5.7-0.1h0m150.7 0h0m0.4 0h0m2.3 0.3h0m4.7-1h0m4.8-1h0m0.5 2.2h0m2.5-2.3h0m1.7 1.7h0m5.8 0h0m-178.1 1h0m3.6 3.7h0m1.8-2.5h0m1.9 3.4h0m147.1-4.6h0m2.8 4.3h0m7.7-3.6h0m17.7 1h0m-197.4 5.6h0m7.5-2.3h0m4.4 1.3h0m2.3 1.4h0m3.6 0.4h0m1.3 1.1h0m1-0.4h0m1.2-0.9h0m153.5-1.9h0m0.1-0.6h0m0.4 3.8h0m3.4-3.8h0m-169.9 9.2h0m1.7-1.1h0m0.5-1h0m11.6-2.2h0m138.8 4.1h0m1.2-3.2h0m3.9-1.1h0m3.3 2.3h0m2-1.8h0m2.8 3.4h0m-153.4 4.4h0m0.1-1.8h0m1.7-0.7h0m3.6 3.1h0m2.3-0.9h0m1.5 1.1h0m1.9-1.9h0m3.9 1.2h0m121.1 0.1h0m3.3-0.2h0m10.7 0.5h0m-138.2 5.1h0m2.2-0.4h0m1.8-3.3h0m3.8 1.8h0m2.8 1.6h0m102.5 0.1h0m0.4-0.8h0m1-1.4h0m4.5 1.1h0m1.7-0.1h0m1.6-1.8h0m-110.5 8.2h0m0.7-2.5h0m3.3-0.2h0m1 1.7h0m2.5 0.3h0m1.8 0h0m0.4-0.1h0m0.5 1.3h0m1.1 0.2h0m0.3-0.4h0m0.4 0.4h0m1-0.5h0m1 0.3h0m1.2 0.2h0m54.8-0.1h0m0.7-0.4h0m2.1 0.3h0m0.8 0.2h0m1.2-0.3h0m0.3-0.3h0m1.6 0.1h0m0.6 0.3h0m3.5-0.1h0m0.5-0.2h0m0.8 0.1h0m2.7 0.4h0m0.9 0h0m1.4-0.4h0m1.3 0.3h0m2.6 0h0m5.8-0.4h0m2.1 0.1h0m1.8-2.3h0m7.3-1.3h0m-92 4.2h0m60.5-0.1h0m1.6 0.1h0m2.2 0h0m0.8 0h0m9 0h0" stroke="#4472c4" stroke-width="2.6" stroke-linecap="round" fill="none"/>
<text x="419.6" y="30.4" font-size="26" letter-spacing="0.21" >0.000001</text>
<text x="435.0" y="153.1" font-size="26" letter-spacing="0.18" >0.00001</text>
<text x="449.4" y="274.8" font-size="26" letter-spacing="0.14" >0.0001</text>
<text x="464.8" y="396.7" font-size="26" letter-spacing="0.08" >0.001</text>
<text x="480.2" y="518.6" font-size="26" letter-spacing="-0.37" >0.01</text>
<text x="495.1" y="639.9" font-size="26" letter-spacing="-0.50" >0.1</text>
<text x="517.8" y="761.3" font-size="26" >1</text>
<text x="145.3" y="801.4" font-size="27" letter-spacing="1.60" >-6</text>
<text x="278.3" y="801.4" font-size="27" letter-spacing="0.30" >-4</text>
<text x="410.6" y="801.4" font-size="27" letter-spacing="1.40" >-2</text>
<text x="548.5" y="793.4" font-size="27" >0</text>
<text x="681.2" y="793.4" font-size="27" >2</text>
<text x="813.8" y="793.4" font-size="27" >4</text>
<text x="946.3" y="793.4" font-size="27" >6</text>
<text x="262.9" y="867.9" font-size="38" letter-spacing="1.34" >pCR/non-pCR -fold change (log2)</text>
<text transform="translate(120.6 473.3) rotate(-90)" font-size="38.5" letter-spacing="0.85" >p-value</text>
<rect x="159.4" y="20.7" width="250.5" height="366.2" fill="#ffff23" fill-opacity="0.25" stroke="#7f7f7f" stroke-width="4.8" stroke-dasharray="14.4 4.7"/>
<rect x="694.6" y="20.5" width="256.6" height="364.9" fill="#ffff23" fill-opacity="0.25" stroke="#7f7f7f" stroke-width="4.8" stroke-dasharray="14.4 4.7"/>
<text x="3.0" y="63.2" font-size="84.5" >A</text>
</g>
<g id="panelC">
<text x="1254.3" y="62.5" font-size="84.5" >C</text>
<text x="1655.6" y="88.0" font-size="40.5" letter-spacing="-0.47" font-style="italic">PLCB4</text>
<rect x="1486.2" y="128.0" width="500.79999999999995" height="499.70000000000005" fill="#fff" stroke="#808080" stroke-width="9.6"/>
<g stroke="#0000d4" stroke-dasharray="1.5 1.4" opacity="0.85"><line x1="1489.2" x2="1989.0" y1="584.8" y2="584.8" stroke-width="1.4"/><line x1="1489.2" x2="1989.0" y1="543.0" y2="543.0" stroke-width="1.9"/><line x1="1489.2" x2="1989.0" y1="501.2" y2="501.2" stroke-width="1.4"/><line x1="1489.2" x2="1989.0" y1="459.4" y2="459.4" stroke-width="1.9"/><line x1="1489.2" x2="1989.0" y1="417.6" y2="417.6" stroke-width="1.4"/><line x1="1489.2" x2="1989.0" y1="375.8" y2="375.8" stroke-width="1.9"/><line x1="1489.2" x2="1989.0" y1="334.0" y2="334.0" stroke-width="1.4"/><line x1="1489.2" x2="1989.0" y1="292.2" y2="292.2" stroke-width="1.9"/><line x1="1489.2" x2="1989.0" y1="250.4" y2="250.4" stroke-width="1.4"/><line x1="1489.2" x2="1989.0" y1="208.6" y2="208.6" stroke-width="1.9"/><line x1="1489.2" x2="1989.0" y1="166.8" y2="166.8" stroke-width="1.4"/><line x1="1739.2" x2="1739.2" y1="125.0" y2="626.3" stroke-width="1.6"/></g>
<path d="M1488.2 543.0h8.5M1990.0 543.0h-8.5M1488.2 459.4h8.5M1990.0 459.4h-8.5M1488.2 375.8h8.5M1990.0 375.8h-8.5M1488.2 292.2h8.5M1990.0 292.2h-8.5M1488.2 208.6h8.5M1990.0 208.6h-8.5M1739.2 125.0v8M1739.2 626.3v-8" stroke="#0000d4" stroke-width="2" fill="none"/>
<rect x="1488.2" y="125.0" width="501.79999999999995" height="501.29999999999995" fill="none" stroke="#1010b8" stroke-width="2.1"/>
<line x1="1500.3" x2="1727" y1="563.1" y2="563.1" stroke="#dd0806" stroke-width="1.6"/>
<line x1="1761.6" x2="1974.8" y1="538.4" y2="538.4" stroke="#0000d4" stroke-width="2.2" stroke-dasharray="7 4 24 10"/>
<g fill="#dd0806"><circle cx="1613.3" cy="510.4" r="7.6"/><circle cx="1631.6" cy="523.0" r="7.6"/><circle cx="1595.3" cy="529.9" r="7.6"/><circle cx="1613.3" cy="536.7" r="7.6"/><circle cx="1577.3" cy="551.0" r="7.6"/><circle cx="1668.1" cy="550.6" r="7.6"/><circle cx="1595.3" cy="564.8" r="7.6"/><circle cx="1613.3" cy="567.3" r="7.6"/><circle cx="1631.6" cy="564.8" r="7.6"/><circle cx="1649.8" cy="564.8" r="7.6"/><circle cx="1595.3" cy="585.3" r="7.6"/><circle cx="1595.3" cy="600.9" r="7.6"/><circle cx="1613.3" cy="595.3" r="7.6"/><circle cx="1631.6" cy="592.5" r="7.6"/><circle cx="1613.3" cy="620.5" r="7.6"/></g>
<g fill="#0000d4"><rect x="1856.6" y="161.4" width="15.3" height="15.3"/><rect x="1874.8" y="269.4" width="15.3" height="15.3"/><rect x="1856.6" y="287.2" width="15.3" height="15.3"/><rect x="1802.5" y="548.8" width="15.3" height="15.3"/><rect x="1802.5" y="574.0" width="15.3" height="15.3"/><rect x="1802.5" y="604.6" width="15.3" height="15.3"/><rect x="1820.5" y="522.5" width="15.3" height="15.3"/><rect x="1820.5" y="554.2" width="15.3" height="15.3"/><rect x="1820.5" y="581.9" width="15.3" height="15.3"/><rect x="1820.5" y="607.1" width="15.3" height="15.3"/><rect x="1838.5" y="462.6" width="15.3" height="15.3"/><rect x="1838.5" y="538.6" width="15.3" height="15.3"/><rect x="1838.5" y="567.1" width="15.3" height="15.3"/><rect x="1838.5" y="590.2" width="15.3" height="15.3"/><rect x="1838.5" y="616.8" width="15.3" height="15.3"/><rect x="1856.5" y="433.5" width="15.3" height="15.3"/><rect x="1856.5" y="484.6" width="15.3" height="15.3"/><rect x="1856.5" y="518.1" width="15.3" height="15.3"/><rect x="1856.5" y="544.4" width="15.3" height="15.3"/><rect x="1856.5" y="568.1" width="15.3" height="15.3"/><rect x="1856.5" y="594.6" width="15.3" height="15.3"/><rect x="1856.5" y="616.8" width="15.3" height="15.3"/><rect x="1874.8" y="497.2" width="15.3" height="15.3"/><rect x="1874.8" y="541.6" width="15.3" height="15.3"/><rect x="1874.8" y="567.1" width="15.3" height="15.3"/><rect x="1874.8" y="590.2" width="15.3" height="15.3"/><rect x="1874.8" y="612.9" width="15.3" height="15.3"/><rect x="1892.8" y="537.6" width="15.3" height="15.3"/><rect x="1892.8" y="564.1" width="15.3" height="15.3"/><rect x="1892.8" y="574.6" width="15.3" height="15.3"/><rect x="1892.8" y="607.1" width="15.3" height="15.3"/><rect x="1911.0" y="551.6" width="15.3" height="15.3"/><rect x="1911.0" y="597.5" width="15.3" height="15.3"/></g>
<path d="M1608.8 196.8V182.5Q1608.8 178.5 1612.8 178.5H1856.8Q1860.8 178.5 1860.8 182.5V196.8" fill="none" stroke="#4472c4" stroke-width="4.4"/>
<text x="1687.7" y="171.0" font-size="38.6" letter-spacing="0.94" ><tspan font-style="italic">P</tspan> = 0.19</text>
<text x="1473.6" y="140.9" font-size="40.5" text-anchor="end" letter-spacing="-1.3">30</text>
<text x="1473.6" y="226.2" font-size="40.5" text-anchor="end" letter-spacing="-1.3">25</text>
<text x="1473.6" y="311.6" font-size="40.5" text-anchor="end" letter-spacing="-1.3">20</text>
<text x="1473.6" y="396.9" font-size="40.5" text-anchor="end" letter-spacing="-1.3">15</text>
<text x="1473.6" y="482.3" font-size="40.5" text-anchor="end" letter-spacing="-1.3">10</text>
<text x="1473.6" y="567.6" font-size="40.5" text-anchor="end">5</text>
<text x="1473.6" y="653.0" font-size="40.5" text-anchor="end">0</text>
<text transform="translate(1398.2 563.1) rotate(-90)" font-size="41" letter-spacing="-0.47" ><tspan font-style="italic">Gene/GAPDH</tspan> x 10<tspan font-size="29.5" dy="-15.6">2</tspan></text>
<text x="1560.3" y="698.3" font-size="39" letter-spacing="1.55" >pCR</text>
<text x="1765.9" y="698.3" font-size="39" letter-spacing="0.70" >Non-pCR</text>
</g>
<g id="panelB">
<text x="5.4" y="1060.7" font-size="85" >B</text>
<text transform="translate(87.0 1772.7) rotate(-90)" font-size="40.5" letter-spacing="-0.45" ><tspan font-style="italic">Gene/GAPDH</tspan> x 10<tspan font-size="28.5" dy="-15">2</tspan></text>
<text x="395.0" y="1053.7" font-size="40.3" letter-spacing="0.15" font-style="italic">PLCB4</text>
<path d="M338.0 1150.5V1139.4Q338.0 1135.4 342.0 1135.4H589.8Q593.8 1135.4 593.8 1139.4V1150.5" fill="none" stroke="#4472c4" stroke-width="4.6"/>
<text x="415.6" y="1128.2" font-size="39.4" letter-spacing="0.51" ><tspan font-style="italic">P</tspan> = 0.03</text>
<path d="M247.0 1156.4H713.4M247.0 1218.6H713.4M247.0 1281.3H713.4M244.2 1343.9H713.4M240.9 1406.3H713.4M244.2 1469.0H713.4M244.2 1531.6H713.4M466.1 1095.1V1591.9" stroke="#0000d4" stroke-width="1.7" stroke-dasharray="1.5 1.4" opacity="0.8" fill="none"/>
<path d="M713.4 1156.4h-4.5M713.4 1218.6h-4.5M713.4 1281.3h-4.5M713.4 1343.9h-4.5M713.4 1406.3h-4.5M713.4 1469.0h-4.5M713.4 1531.6h-4.5M466.1 1591.9v-8" stroke="#0000d4" stroke-width="1.8" fill="none"/>
<line x1="243.7" x2="454.2" y1="1371.7" y2="1371.7" stroke="#dd0806" stroke-width="1.5"/>
<line x1="489.0" x2="703.4" y1="1496.8" y2="1496.8" stroke="#0000d4" stroke-width="2" stroke-dasharray="6.8 5 23.8 9.2"/>
<g><g fill="#dd0806"><circle cx="339.7" cy="1097.1" r="4.6"/><circle cx="327.1" cy="1156.0" r="4.6"/><circle cx="339.7" cy="1159.3" r="4.6"/><circle cx="339.7" cy="1243.8" r="4.6"/><circle cx="352.5" cy="1259.0" r="4.6"/><circle cx="339.7" cy="1266.2" r="4.6"/><circle cx="339.7" cy="1309.1" r="4.6"/><circle cx="339.7" cy="1328.9" r="4.6"/><circle cx="339.7" cy="1484.6" r="4.6"/><circle cx="339.7" cy="1536.2" r="4.6"/><circle cx="314.6" cy="1587.0" r="4.6"/><circle cx="352.5" cy="1592.5" r="4.6"/></g><g fill="#0000d4"><rect x="587.4" y="1315.3" width="9.6" height="9.6"/><rect x="587.4" y="1333.6" width="9.6" height="9.6"/><rect x="587.4" y="1354.7" width="9.6" height="9.6"/><rect x="587.4" y="1410.1" width="9.6" height="9.6"/><rect x="587.4" y="1437.9" width="9.6" height="9.6"/><rect x="587.4" y="1457.5" width="9.6" height="9.6"/><rect x="587.4" y="1487.3" width="9.6" height="9.6"/><rect x="587.4" y="1505.9" width="9.6" height="9.6"/><rect x="587.4" y="1523.9" width="9.6" height="9.6"/><rect x="587.4" y="1543.4" width="9.6" height="9.6"/><rect x="587.4" y="1564.1" width="9.6" height="9.6"/><rect x="587.4" y="1581.1" width="9.6" height="9.6"/><rect x="574.8" y="1500.1" width="9.6" height="9.6"/><rect x="574.8" y="1523.9" width="9.6" height="9.6"/><rect x="574.8" y="1537.9" width="9.6" height="9.6"/><rect x="574.8" y="1551.7" width="9.6" height="9.6"/><rect x="574.8" y="1575.4" width="9.6" height="9.6"/><rect x="600.2" y="1501.9" width="9.6" height="9.6"/><rect x="600.2" y="1539.4" width="9.6" height="9.6"/><rect x="600.2" y="1560.4" width="9.6" height="9.6"/><rect x="612.6" y="1531.2" width="9.6" height="9.6"/></g></g>
<rect x="213.15" y="1091.45" width="503.90" height="504.10" fill="none" stroke="#000" stroke-width="7.3"/>
<text x="204.9" y="1624.3" font-size="40.3" text-anchor="end">0</text>
<text x="204.9" y="1560.4" font-size="40.3" text-anchor="end">2</text>
<text x="204.9" y="1496.4" font-size="40.3" text-anchor="end">4</text>
<text x="204.9" y="1432.5" font-size="40.3" text-anchor="end">6</text>
<text x="204.9" y="1368.5" font-size="40.3" text-anchor="end">8</text>
<text x="207.9" y="1304.6" font-size="40.3" text-anchor="end" letter-spacing="-1.2">10</text>
<text x="207.9" y="1240.7" font-size="40.3" text-anchor="end" letter-spacing="-1.2">12</text>
<text x="207.9" y="1176.7" font-size="40.3" text-anchor="end" letter-spacing="-1.2">14</text>
<text x="207.9" y="1112.8" font-size="40.3" text-anchor="end" letter-spacing="-1.2">16</text>
<text x="1035.5" y="1053.4" font-size="40.3" letter-spacing="-0.38" font-style="italic">TGFB2</text>
<path d="M976.0 1124.4V1112.6Q976.0 1108.6 980.0 1108.6H1228.0Q1232.0 1108.6 1232.0 1112.6V1124.4" fill="none" stroke="#4472c4" stroke-width="4.6"/>
<text x="1076.2" y="1159.2" font-size="39.5" letter-spacing="-0.10" >NS</text>
<path d="M882.0 1151.8H1353.5M879.0 1214.7H1353.5M882.0 1278.6H1353.5M882.0 1342.5H1353.5M882.0 1405.8H1353.5M882.0 1469.3H1353.5M882.0 1533.2H1353.5M1105.2 1094.7V1591.9" stroke="#0000d4" stroke-width="1.7" stroke-dasharray="1.5 1.4" opacity="0.8" fill="none"/>
<path d="M1353.5 1151.8h-4.5M1353.5 1214.7h-4.5M1353.5 1278.6h-4.5M1353.5 1342.5h-4.5M1353.5 1405.8h-4.5M1353.5 1469.3h-4.5M1353.5 1533.2h-4.5M1105.2 1591.9v-8" stroke="#0000d4" stroke-width="1.8" fill="none"/>
<line x1="882.0" x2="1093.3" y1="1487.6" y2="1487.6" stroke="#dd0806" stroke-width="1.5"/>
<line x1="1128.8" x2="1343.9" y1="1493.7" y2="1493.7" stroke="#0000d4" stroke-width="2" stroke-dasharray="6.8 5 23.8 9.2"/>
<g><g fill="#dd0806"><circle cx="978.3" cy="1163.3" r="4.6"/><circle cx="978.3" cy="1226.6" r="4.6"/><circle cx="978.3" cy="1250.6" r="4.6"/><circle cx="965.5" cy="1504.8" r="4.6"/><circle cx="991.2" cy="1504.8" r="4.6"/><circle cx="978.3" cy="1519.0" r="4.6"/><circle cx="978.3" cy="1552.9" r="4.6"/><circle cx="965.5" cy="1565.4" r="4.6"/><circle cx="978.3" cy="1572.8" r="4.6"/><circle cx="953.0" cy="1590.7" r="4.6"/><circle cx="1003.7" cy="1590.7" r="4.6"/></g><g fill="#0000d4"><rect x="1227.1" y="1139.9" width="9.6" height="9.6"/><rect x="1227.1" y="1285.3" width="9.6" height="9.6"/><rect x="1214.6" y="1326.2" width="9.6" height="9.6"/><rect x="1227.1" y="1340.4" width="9.6" height="9.6"/><rect x="1240.0" y="1340.4" width="9.6" height="9.6"/><rect x="1227.1" y="1403.0" width="9.6" height="9.6"/><rect x="1227.1" y="1472.0" width="9.6" height="9.6"/><rect x="1214.6" y="1490.2" width="9.6" height="9.6"/><rect x="1227.1" y="1500.4" width="9.6" height="9.6"/><rect x="1240.0" y="1550.8" width="9.6" height="9.6"/><rect x="1227.1" y="1563.6" width="9.6" height="9.6"/><rect x="1163.9" y="1576.5" width="9.6" height="9.6"/><rect x="1176.4" y="1577.8" width="9.6" height="9.6"/><rect x="1189.3" y="1582.9" width="9.6" height="9.6"/><rect x="1201.8" y="1587.6" width="9.6" height="9.6"/><rect x="1240.0" y="1590.3" width="9.6" height="9.6"/><rect x="1252.5" y="1584.2" width="9.6" height="9.6"/><rect x="1265.4" y="1579.2" width="9.6" height="9.6"/><rect x="1278.2" y="1577.8" width="9.6" height="9.6"/></g></g>
<rect x="852.85" y="1091.05" width="504.30" height="504.50" fill="none" stroke="#000" stroke-width="7.3"/>
<text x="844.1" y="1112.4" font-size="40.3" text-anchor="end">8</text>
<text x="844.1" y="1175.7" font-size="40.3" text-anchor="end">7</text>
<text x="844.1" y="1239.0" font-size="40.3" text-anchor="end">6</text>
<text x="844.1" y="1302.3" font-size="40.3" text-anchor="end">5</text>
<text x="844.1" y="1365.6" font-size="40.3" text-anchor="end">4</text>
<text x="844.1" y="1428.9" font-size="40.3" text-anchor="end">3</text>
<text x="844.1" y="1492.2" font-size="40.3" text-anchor="end">2</text>
<text x="844.1" y="1555.5" font-size="40.3" text-anchor="end">1</text>
<text x="844.1" y="1618.8" font-size="40.3" text-anchor="end">0</text>
<line x1="882" x2="1360.8" y1="1087.2" y2="1087.2" stroke="#0000d4" stroke-width="1" opacity="0.7"/>
<text x="1699.6" y="1053.4" font-size="40.3" font-style="italic">MMP1</text>
<path d="M1624.6 1171.4V1160.2Q1624.6 1156.2 1628.6 1156.2H1876.5Q1880.5 1156.2 1880.5 1160.2V1171.4" fill="none" stroke="#4472c4" stroke-width="4.6"/>
<text x="1718.6" y="1145.4" font-size="39.5" letter-spacing="0.70" >NS</text>
<path d="M1524.8 1191.0H1996.5M1524.8 1291.5H1996.5M1524.8 1392.2H1996.5M1524.8 1493.0H1996.5M1749.3 1095.2V1591.9" stroke="#0000d4" stroke-width="1.7" stroke-dasharray="1.5 1.4" opacity="0.8" fill="none"/>
<path d="M1996.5 1191.0h-4.5M1996.5 1291.5h-4.5M1996.5 1392.2h-4.5M1996.5 1493.0h-4.5M1749.3 1591.9v-8" stroke="#0000d4" stroke-width="1.8" fill="none"/>
<line x1="1524.8" x2="1737.8" y1="1510.9" y2="1510.9" stroke="#dd0806" stroke-width="1.5"/>
<line x1="1773.0" x2="1987.0" y1="1544.7" y2="1544.7" stroke="#0000d4" stroke-width="2" stroke-dasharray="6.8 5 23.8 9.2"/>
<g><g fill="#dd0806"><circle cx="1623.6" cy="1131.9" r="4.6"/><circle cx="1623.6" cy="1378.0" r="4.6"/><circle cx="1623.6" cy="1473.4" r="4.6"/><circle cx="1623.6" cy="1494.7" r="4.6"/><circle cx="1623.6" cy="1526.5" r="4.6"/><circle cx="1636.4" cy="1547.8" r="4.6"/><circle cx="1623.6" cy="1552.2" r="4.6"/><circle cx="1610.7" cy="1562.0" r="4.6"/><circle cx="1636.4" cy="1563.0" r="4.6"/><circle cx="1623.6" cy="1571.4" r="4.6"/><circle cx="1598.2" cy="1584.0" r="4.6"/><circle cx="1636.4" cy="1585.0" r="4.6"/><circle cx="1610.7" cy="1592.4" r="4.6"/><circle cx="1623.6" cy="1592.4" r="4.6"/></g><g fill="#0000d4"><rect x="1870.7" y="1336.0" width="9.6" height="9.6"/><rect x="1870.7" y="1415.5" width="9.6" height="9.6"/><rect x="1870.7" y="1433.8" width="9.6" height="9.6"/><rect x="1870.7" y="1457.4" width="9.6" height="9.6"/><rect x="1870.7" y="1526.1" width="9.6" height="9.6"/><rect x="1832.8" y="1562.3" width="9.6" height="9.6"/><rect x="1908.5" y="1559.9" width="9.6" height="9.6"/><rect x="1845.3" y="1563.9" width="9.6" height="9.6"/><rect x="1896.0" y="1563.9" width="9.6" height="9.6"/><rect x="1858.2" y="1569.0" width="9.6" height="9.6"/><rect x="1870.7" y="1569.0" width="9.6" height="9.6"/><rect x="1883.2" y="1566.6" width="9.6" height="9.6"/><rect x="1819.9" y="1573.7" width="9.6" height="9.6"/><rect x="1921.4" y="1572.1" width="9.6" height="9.6"/><rect x="1832.8" y="1576.1" width="9.6" height="9.6"/><rect x="1908.5" y="1574.8" width="9.6" height="9.6"/><rect x="1845.3" y="1577.5" width="9.6" height="9.6"/><rect x="1896.0" y="1577.5" width="9.6" height="9.6"/><rect x="1858.2" y="1585.9" width="9.6" height="9.6"/><rect x="1870.7" y="1586.9" width="9.6" height="9.6"/><rect x="1883.2" y="1583.6" width="9.6" height="9.6"/></g></g>
<rect x="1496.35" y="1091.55" width="503.80" height="504.00" fill="none" stroke="#000" stroke-width="7.3"/>
<text x="1487.7" y="1112.4" font-size="40.3" text-anchor="end">5</text>
<text x="1487.7" y="1213.3" font-size="40.3" text-anchor="end">4</text>
<text x="1487.7" y="1314.2" font-size="40.3" text-anchor="end">3</text>
<text x="1487.7" y="1415.1" font-size="40.3" text-anchor="end">2</text>
<text x="1487.7" y="1516.0" font-size="40.3" text-anchor="end">1</text>
<text x="1487.7" y="1616.9" font-size="40.3" text-anchor="end">0</text>
<text x="397.9" y="1661.9" font-size="40.3" letter-spacing="-0.53" font-style="italic">TUBA4</text>
<path d="M337.3 1777.4V1765.6Q337.3 1761.6 341.3 1761.6H590.0Q594.0 1761.6 594.0 1765.6V1777.4" fill="none" stroke="#4472c4" stroke-width="4.6"/>
<text x="429.8" y="1754.0" font-size="39.5" letter-spacing="1.30" >NS</text>
<path d="M245.2 1783.6H709.8M241.1 1866.8H709.8M238.3 1950.3H709.8M241.1 2033.1H709.8M241.1 2116.6H709.8M461.0 1701.2V2198.0" stroke="#0000d4" stroke-width="1.7" stroke-dasharray="1.5 1.4" opacity="0.8" fill="none"/>
<path d="M709.8 1783.6h-8.5M709.8 1866.8h-8.5M709.8 1950.3h-8.5M709.8 2033.1h-8.5M709.8 2116.6h-8.5M461.0 2198.0v-8" stroke="#0000d4" stroke-width="1.8" fill="none"/>
<line x1="241.1" x2="449.0" y1="2087.4" y2="2087.4" stroke="#dd0806" stroke-width="1.5"/>
<line x1="484.0" x2="696.5" y1="2077.8" y2="2077.8" stroke="#0000d4" stroke-width="2" stroke-dasharray="6.8 5 23.8 9.2"/>
<g><g fill="#dd0806"><circle cx="336.3" cy="1746.5" r="4.6"/><circle cx="336.3" cy="1966.8" r="4.6"/><circle cx="336.3" cy="1997.4" r="4.6"/><circle cx="336.3" cy="2012.5" r="4.6"/><circle cx="323.6" cy="2101.2" r="4.6"/><circle cx="348.6" cy="2101.2" r="4.6"/><circle cx="336.3" cy="2106.7" r="4.6"/><circle cx="323.6" cy="2137.2" r="4.6"/><circle cx="336.3" cy="2141.7" r="4.6"/><circle cx="336.3" cy="2157.9" r="4.6"/><circle cx="336.3" cy="2177.4" r="4.6"/><circle cx="348.6" cy="2184.3" r="4.6"/><circle cx="323.6" cy="2188.8" r="4.6"/></g><g fill="#0000d4"><rect x="581.0" y="1720.4" width="9.6" height="9.6"/><rect x="581.0" y="1741.7" width="9.6" height="9.6"/><rect x="581.0" y="1902.2" width="9.6" height="9.6"/><rect x="581.0" y="1962.3" width="9.6" height="9.6"/><rect x="581.0" y="2013.2" width="9.6" height="9.6"/><rect x="568.6" y="2035.2" width="9.6" height="9.6"/><rect x="581.0" y="2039.6" width="9.6" height="9.6"/><rect x="593.7" y="2062.0" width="9.6" height="9.6"/><rect x="581.0" y="2073.0" width="9.6" height="9.6"/><rect x="568.6" y="2127.3" width="9.6" height="9.6"/><rect x="581.0" y="2131.1" width="9.6" height="9.6"/><rect x="568.6" y="2157.5" width="9.6" height="9.6"/><rect x="606.1" y="2156.2" width="9.6" height="9.6"/><rect x="581.0" y="2162.7" width="9.6" height="9.6"/><rect x="593.7" y="2161.3" width="9.6" height="9.6"/><rect x="543.2" y="2177.1" width="9.6" height="9.6"/><rect x="556.2" y="2179.5" width="9.6" height="9.6"/><rect x="593.7" y="2180.9" width="9.6" height="9.6"/><rect x="606.1" y="2178.2" width="9.6" height="9.6"/><rect x="568.6" y="2189.2" width="9.6" height="9.6"/><rect x="581.0" y="2189.8" width="9.6" height="9.6"/></g></g>
<rect x="209.65" y="1697.55" width="503.80" height="504.10" fill="none" stroke="#000" stroke-width="7.3"/>
<text x="204.9" y="1724.0" font-size="40.3" text-anchor="end" letter-spacing="-1.2">12</text>
<text x="204.9" y="1807.4" font-size="40.3" text-anchor="end" letter-spacing="-1.2">10</text>
<text x="203.0" y="1890.8" font-size="40.3" text-anchor="end">8</text>
<text x="203.0" y="1974.2" font-size="40.3" text-anchor="end">6</text>
<text x="203.0" y="2057.6" font-size="40.3" text-anchor="end">4</text>
<text x="203.0" y="2141.0" font-size="40.3" text-anchor="end">2</text>
<text x="203.0" y="2224.4" font-size="40.3" text-anchor="end">0</text>
<text x="298.4" y="2262.2" font-size="39" letter-spacing="1.60" >pCR</text>
<text x="504.6" y="2262.2" font-size="39" letter-spacing="0.77" >Non-pCR</text>
<text x="1052.9" y="1661.9" font-size="40.3" letter-spacing="-0.38" font-style="italic">FBLN1</text>
<path d="M980.7 1778.1V1765.6Q980.7 1761.6 984.7 1761.6H1232.8Q1236.8 1761.6 1236.8 1765.6V1778.1" fill="none" stroke="#4472c4" stroke-width="4.6"/>
<text x="1073.3" y="1754.0" font-size="39.5" letter-spacing="1.20" >NS</text>
<path d="M888.6 1798.0H1353.2M888.6 1898.7H1353.2M888.6 1999.4H1353.2M888.6 2099.8H1353.2M1106.2 1701.2V2198.0" stroke="#0000d4" stroke-width="1.7" stroke-dasharray="1.5 1.4" opacity="0.8" fill="none"/>
<path d="M1353.2 1798.0h-7M1353.2 1898.7h-7M1353.2 1999.4h-7M1353.2 2099.8h-7M1106.2 2198.0v-8" stroke="#0000d4" stroke-width="1.8" fill="none"/>
<line x1="884.5" x2="1094.2" y1="2121.1" y2="2121.1" stroke="#dd0806" stroke-width="1.5"/>
<line x1="1129.2" x2="1343.3" y1="2110.8" y2="2110.8" stroke="#0000d4" stroke-width="2" stroke-dasharray="6.8 5 23.8 9.2"/>
<g><g fill="#dd0806"><circle cx="980.4" cy="2014.9" r="4.6"/><circle cx="980.4" cy="2040.0" r="4.6"/><circle cx="967.3" cy="2063.7" r="4.6"/><circle cx="980.4" cy="2076.4" r="4.6"/><circle cx="980.4" cy="2105.6" r="4.6"/><circle cx="1005.5" cy="2127.6" r="4.6"/><circle cx="967.3" cy="2133.8" r="4.6"/><circle cx="992.8" cy="2134.5" r="4.6"/><circle cx="980.4" cy="2140.7" r="4.6"/><circle cx="967.3" cy="2154.4" r="4.6"/><circle cx="980.4" cy="2161.6" r="4.6"/><circle cx="967.3" cy="2175.0" r="4.6"/><circle cx="992.8" cy="2172.6" r="4.6"/><circle cx="980.4" cy="2183.6" r="4.6"/></g><g fill="#0000d4"><rect x="1227.2" y="1707.0" width="9.6" height="9.6"/><rect x="1227.2" y="1811.8" width="9.6" height="9.6"/><rect x="1227.2" y="1972.6" width="9.6" height="9.6"/><rect x="1227.2" y="2067.5" width="9.6" height="9.6"/><rect x="1239.9" y="2095.0" width="9.6" height="9.6"/><rect x="1227.2" y="2100.8" width="9.6" height="9.6"/><rect x="1214.5" y="2111.8" width="9.6" height="9.6"/><rect x="1227.2" y="2126.3" width="9.6" height="9.6"/><rect x="1214.5" y="2150.0" width="9.6" height="9.6"/><rect x="1252.6" y="2148.6" width="9.6" height="9.6"/><rect x="1239.9" y="2152.0" width="9.6" height="9.6"/><rect x="1227.2" y="2161.6" width="9.6" height="9.6"/><rect x="1202.1" y="2173.7" width="9.6" height="9.6"/><rect x="1202.1" y="2182.3" width="9.6" height="9.6"/><rect x="1214.5" y="2176.4" width="9.6" height="9.6"/><rect x="1227.2" y="2177.5" width="9.6" height="9.6"/><rect x="1239.9" y="2175.1" width="9.6" height="9.6"/><rect x="1252.6" y="2178.8" width="9.6" height="9.6"/><rect x="1214.5" y="2188.1" width="9.6" height="9.6"/><rect x="1239.9" y="2188.1" width="9.6" height="9.6"/><rect x="1227.2" y="2192.6" width="9.6" height="9.6"/></g></g>
<rect x="852.75" y="1697.55" width="504.10" height="504.10" fill="none" stroke="#000" stroke-width="7.3"/>
<text x="848.7" y="1721.3" font-size="40.3" text-anchor="end" letter-spacing="-1.2">25</text>
<text x="848.7" y="1821.8" font-size="40.3" text-anchor="end" letter-spacing="-1.2">20</text>
<text x="848.7" y="1922.3" font-size="40.3" text-anchor="end" letter-spacing="-1.2">15</text>
<text x="848.7" y="2022.8" font-size="40.3" text-anchor="end" letter-spacing="-1.2">10</text>
<text x="847.0" y="2123.3" font-size="40.3" text-anchor="end">5</text>
<text x="847.0" y="2223.8" font-size="40.3" text-anchor="end">0</text>
<text x="949.6" y="2262.2" font-size="39" letter-spacing="1.50" >pCR</text>
<text x="1153.0" y="2262.2" font-size="39" letter-spacing="0.75" >Non-pCR</text>
<line x1="914.8" x2="914.8" y1="2207" y2="2226.6" stroke="#c8c8c8" stroke-width="1.2"/>
<text x="1680.5" y="1661.9" font-size="40.3" letter-spacing="-0.48" font-style="italic">MMP13</text>
<path d="M1624.1 1778.0V1765.6Q1624.1 1761.6 1628.1 1761.6H1876.2Q1880.2 1761.6 1880.2 1765.6V1778.0" fill="none" stroke="#4472c4" stroke-width="4.6"/>
<text x="1716.3" y="1754.0" font-size="39.5" letter-spacing="0.90" >NS</text>
<path d="M1532.0 1784.3H1996.5M1528.6 1868.1H1996.5M1524.5 1952.0H1996.5M1528.6 2036.2H1996.5M1528.6 2120.0H1996.5M1747.5 1701.2V2198.0" stroke="#0000d4" stroke-width="1.7" stroke-dasharray="1.5 1.4" opacity="0.8" fill="none"/>
<path d="M1996.5 1784.3h-4.5M1996.5 1868.1h-4.5M1996.5 1952.0h-4.5M1996.5 2036.2h-4.5M1996.5 2120.0h-4.5M1747.5 2198.0v-8" stroke="#0000d4" stroke-width="1.8" fill="none"/>
<line x1="1527.9" x2="1735.8" y1="2163.7" y2="2163.7" stroke="#dd0806" stroke-width="1.5"/>
<line x1="1770.9" x2="1985.0" y1="2135.5" y2="2135.5" stroke="#0000d4" stroke-width="2" stroke-dasharray="6.8 5 23.8 9.2"/>
<g><g fill="#dd0806"><circle cx="1621.7" cy="2026.2" r="4.6"/><circle cx="1621.7" cy="2119.0" r="4.6"/><circle cx="1621.7" cy="2143.8" r="4.6"/><circle cx="1609.0" cy="2153.7" r="4.6"/><circle cx="1634.4" cy="2153.7" r="4.6"/><circle cx="1647.2" cy="2152.4" r="4.6"/><circle cx="1621.7" cy="2161.3" r="4.6"/><circle cx="1621.7" cy="2184.7" r="4.6"/><circle cx="1583.9" cy="2191.9" r="4.6"/><circle cx="1647.2" cy="2192.9" r="4.6"/><circle cx="1596.6" cy="2198.1" r="4.6"/><circle cx="1634.4" cy="2200.0" r="4.6"/></g><g fill="#0000d4"><rect x="1868.2" y="1733.4" width="9.6" height="9.6"/><rect x="1880.9" y="1996.3" width="9.6" height="9.6"/><rect x="1868.2" y="2010.4" width="9.6" height="9.6"/><rect x="1868.2" y="2068.2" width="9.6" height="9.6"/><rect x="1868.2" y="2084.3" width="9.6" height="9.6"/><rect x="1855.8" y="2089.1" width="9.6" height="9.6"/><rect x="1868.2" y="2101.5" width="9.6" height="9.6"/><rect x="1880.9" y="2166.1" width="9.6" height="9.6"/><rect x="1855.8" y="2175.7" width="9.6" height="9.6"/><rect x="1868.2" y="2179.9" width="9.6" height="9.6"/><rect x="1805.6" y="2186.7" width="9.6" height="9.6"/><rect x="1931.4" y="2186.7" width="9.6" height="9.6"/><rect x="1919.0" y="2189.5" width="9.6" height="9.6"/><rect x="1818.0" y="2194.3" width="9.6" height="9.6"/><rect x="1830.7" y="2195.3" width="9.6" height="9.6"/><rect x="1906.3" y="2195.3" width="9.6" height="9.6"/></g></g>
<rect x="1495.95" y="1697.55" width="504.20" height="504.10" fill="none" stroke="#000" stroke-width="7.3"/>
<text x="1490.8" y="1724.7" font-size="40.3" text-anchor="end" letter-spacing="-1.2">12</text>
<text x="1490.8" y="1808.4" font-size="40.3" text-anchor="end" letter-spacing="-1.2">10</text>
<text x="1489.6" y="1892.1" font-size="40.3" text-anchor="end">8</text>
<text x="1489.6" y="1975.9" font-size="40.3" text-anchor="end">6</text>
<text x="1489.6" y="2059.6" font-size="40.3" text-anchor="end">4</text>
<text x="1489.6" y="2143.4" font-size="40.3" text-anchor="end">2</text>
<text x="1489.6" y="2227.1" font-size="40.3" text-anchor="end">0</text>
<text x="1589.2" y="2262.2" font-size="39" letter-spacing="1.15" >pCR</text>
<text x="1800.5" y="2262.2" font-size="39" letter-spacing="0.63" >Non-pCR</text>
</g>
</svg>
</body></html>
